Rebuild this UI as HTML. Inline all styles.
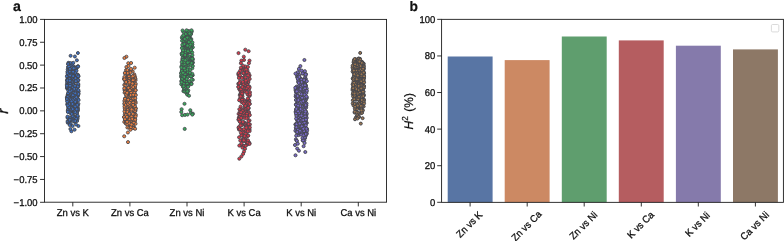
<!DOCTYPE html>
<html><head><meta charset="utf-8"><title>figure</title>
<style>html,body{margin:0;padding:0;background:#fff}svg{display:block;will-change:transform;text-rendering:geometricPrecision}</style></head>
<body>
<svg width="784" height="241" viewBox="0 0 784 241">
<rect width="784" height="241" fill="#fff"/>
<g fill="#3E70C2" stroke="#44464c" stroke-width="0.92">
<circle cx="72.8" cy="89.7" r="1.5"/><circle cx="72.5" cy="94.2" r="1.5"/><circle cx="68.9" cy="63.3" r="1.5"/><circle cx="70.2" cy="111.3" r="1.5"/><circle cx="77.7" cy="107.9" r="1.5"/><circle cx="78.4" cy="84.9" r="1.5"/><circle cx="74.1" cy="116.5" r="1.5"/><circle cx="70.2" cy="79.5" r="1.5"/><circle cx="71.0" cy="118.3" r="1.5"/><circle cx="71.5" cy="112.7" r="1.5"/><circle cx="76.7" cy="76.7" r="1.5"/><circle cx="68.1" cy="83.7" r="1.5"/><circle cx="70.4" cy="87.1" r="1.5"/><circle cx="67.8" cy="94.4" r="1.5"/><circle cx="72.0" cy="101.5" r="1.5"/><circle cx="67.2" cy="80.8" r="1.5"/><circle cx="73.4" cy="86.4" r="1.5"/><circle cx="71.9" cy="69.8" r="1.5"/><circle cx="72.6" cy="108.8" r="1.5"/><circle cx="70.1" cy="75.5" r="1.5"/><circle cx="72.6" cy="115.4" r="1.5"/><circle cx="68.8" cy="86.1" r="1.5"/><circle cx="68.4" cy="79.7" r="1.5"/><circle cx="77.8" cy="96.0" r="1.5"/><circle cx="67.9" cy="86.7" r="1.5"/><circle cx="73.1" cy="103.7" r="1.5"/><circle cx="76.9" cy="105.8" r="1.5"/><circle cx="71.9" cy="103.1" r="1.5"/><circle cx="70.6" cy="83.5" r="1.5"/><circle cx="67.6" cy="95.6" r="1.5"/><circle cx="75.4" cy="93.5" r="1.5"/><circle cx="67.7" cy="122.7" r="1.5"/><circle cx="78.7" cy="91.6" r="1.5"/><circle cx="68.6" cy="83.0" r="1.5"/><circle cx="77.0" cy="99.2" r="1.5"/><circle cx="75.6" cy="99.4" r="1.5"/><circle cx="76.6" cy="96.9" r="1.5"/><circle cx="77.0" cy="119.3" r="1.5"/><circle cx="69.9" cy="76.7" r="1.5"/><circle cx="71.5" cy="88.7" r="1.5"/><circle cx="74.5" cy="73.7" r="1.5"/><circle cx="74.3" cy="67.9" r="1.5"/><circle cx="77.8" cy="75.5" r="1.5"/><circle cx="78.4" cy="93.7" r="1.5"/><circle cx="68.4" cy="71.5" r="1.5"/><circle cx="70.5" cy="79.1" r="1.5"/><circle cx="67.5" cy="78.1" r="1.5"/><circle cx="72.4" cy="75.1" r="1.5"/><circle cx="75.9" cy="117.1" r="1.5"/><circle cx="75.0" cy="105.4" r="1.5"/><circle cx="77.1" cy="120.9" r="1.5"/><circle cx="68.6" cy="79.9" r="1.5"/><circle cx="76.6" cy="86.1" r="1.5"/><circle cx="68.1" cy="80.3" r="1.5"/><circle cx="78.5" cy="76.2" r="1.5"/><circle cx="71.2" cy="111.1" r="1.5"/><circle cx="75.0" cy="95.3" r="1.5"/><circle cx="69.5" cy="117.4" r="1.5"/><circle cx="67.9" cy="74.6" r="1.5"/><circle cx="68.2" cy="76.7" r="1.5"/><circle cx="70.3" cy="72.7" r="1.5"/><circle cx="67.5" cy="117.7" r="1.5"/><circle cx="70.4" cy="112.9" r="1.5"/><circle cx="67.7" cy="69.3" r="1.5"/><circle cx="76.0" cy="69.5" r="1.5"/><circle cx="67.9" cy="101.0" r="1.5"/><circle cx="68.0" cy="73.0" r="1.5"/><circle cx="71.1" cy="87.0" r="1.5"/><circle cx="75.3" cy="67.4" r="1.5"/><circle cx="69.3" cy="68.9" r="1.5"/><circle cx="78.2" cy="86.7" r="1.5"/><circle cx="76.6" cy="104.9" r="1.5"/><circle cx="67.1" cy="82.6" r="1.5"/><circle cx="71.1" cy="101.9" r="1.5"/><circle cx="76.5" cy="105.5" r="1.5"/><circle cx="71.4" cy="65.4" r="1.5"/><circle cx="77.7" cy="116.6" r="1.5"/><circle cx="71.0" cy="90.2" r="1.5"/><circle cx="74.1" cy="88.7" r="1.5"/><circle cx="70.7" cy="89.1" r="1.5"/><circle cx="75.8" cy="94.0" r="1.5"/><circle cx="73.7" cy="106.2" r="1.5"/><circle cx="70.6" cy="100.4" r="1.5"/><circle cx="68.4" cy="62.8" r="1.5"/><circle cx="70.3" cy="120.3" r="1.5"/><circle cx="77.6" cy="99.2" r="1.5"/><circle cx="75.7" cy="81.7" r="1.5"/><circle cx="71.6" cy="88.1" r="1.5"/><circle cx="69.7" cy="109.9" r="1.5"/><circle cx="75.2" cy="101.7" r="1.5"/><circle cx="73.4" cy="101.9" r="1.5"/><circle cx="77.6" cy="118.7" r="1.5"/><circle cx="76.0" cy="92.6" r="1.5"/><circle cx="74.7" cy="76.0" r="1.5"/><circle cx="69.8" cy="80.3" r="1.5"/><circle cx="71.5" cy="85.0" r="1.5"/><circle cx="75.5" cy="77.0" r="1.5"/><circle cx="70.3" cy="103.7" r="1.5"/><circle cx="72.5" cy="88.6" r="1.5"/><circle cx="66.9" cy="88.2" r="1.5"/><circle cx="68.6" cy="99.9" r="1.5"/><circle cx="78.0" cy="90.2" r="1.5"/><circle cx="77.2" cy="98.9" r="1.5"/><circle cx="70.8" cy="112.3" r="1.5"/><circle cx="68.8" cy="86.6" r="1.5"/><circle cx="70.6" cy="63.0" r="1.5"/><circle cx="75.6" cy="105.2" r="1.5"/><circle cx="76.2" cy="102.4" r="1.5"/><circle cx="70.6" cy="81.7" r="1.5"/><circle cx="70.9" cy="72.8" r="1.5"/><circle cx="74.9" cy="72.9" r="1.5"/><circle cx="68.7" cy="111.9" r="1.5"/><circle cx="70.8" cy="78.8" r="1.5"/><circle cx="68.8" cy="122.3" r="1.5"/><circle cx="72.2" cy="80.4" r="1.5"/><circle cx="77.8" cy="109.7" r="1.5"/><circle cx="70.9" cy="80.3" r="1.5"/><circle cx="70.4" cy="96.9" r="1.5"/><circle cx="72.8" cy="116.2" r="1.5"/><circle cx="67.8" cy="80.3" r="1.5"/><circle cx="71.5" cy="82.4" r="1.5"/><circle cx="72.1" cy="77.4" r="1.5"/><circle cx="71.2" cy="111.0" r="1.5"/><circle cx="77.4" cy="78.0" r="1.5"/><circle cx="71.2" cy="75.3" r="1.5"/><circle cx="77.5" cy="98.3" r="1.5"/><circle cx="67.2" cy="104.3" r="1.5"/><circle cx="66.9" cy="97.3" r="1.5"/><circle cx="76.9" cy="67.6" r="1.5"/><circle cx="74.2" cy="117.5" r="1.5"/><circle cx="73.6" cy="71.4" r="1.5"/><circle cx="67.7" cy="101.2" r="1.5"/><circle cx="77.0" cy="113.1" r="1.5"/><circle cx="69.4" cy="76.7" r="1.5"/><circle cx="69.6" cy="102.4" r="1.5"/><circle cx="74.9" cy="69.0" r="1.5"/><circle cx="77.4" cy="93.0" r="1.5"/><circle cx="70.3" cy="124.2" r="1.5"/><circle cx="75.6" cy="90.3" r="1.5"/><circle cx="73.5" cy="98.4" r="1.5"/><circle cx="75.8" cy="87.7" r="1.5"/><circle cx="78.0" cy="66.2" r="1.5"/><circle cx="78.1" cy="95.2" r="1.5"/><circle cx="76.6" cy="101.2" r="1.5"/><circle cx="68.4" cy="102.9" r="1.5"/><circle cx="73.0" cy="82.9" r="1.5"/><circle cx="70.5" cy="106.3" r="1.5"/><circle cx="73.0" cy="92.6" r="1.5"/><circle cx="74.4" cy="99.1" r="1.5"/><circle cx="74.7" cy="73.3" r="1.5"/><circle cx="71.3" cy="104.5" r="1.5"/><circle cx="67.0" cy="80.2" r="1.5"/><circle cx="77.1" cy="95.4" r="1.5"/><circle cx="68.6" cy="89.3" r="1.5"/><circle cx="76.1" cy="109.5" r="1.5"/><circle cx="67.6" cy="121.2" r="1.5"/><circle cx="74.6" cy="109.0" r="1.5"/><circle cx="67.5" cy="75.5" r="1.5"/><circle cx="74.3" cy="103.0" r="1.5"/><circle cx="76.8" cy="87.8" r="1.5"/><circle cx="69.0" cy="68.4" r="1.5"/><circle cx="68.5" cy="109.8" r="1.5"/><circle cx="71.9" cy="102.9" r="1.5"/><circle cx="69.4" cy="91.4" r="1.5"/><circle cx="73.1" cy="79.3" r="1.5"/><circle cx="66.9" cy="84.4" r="1.5"/><circle cx="71.1" cy="72.0" r="1.5"/><circle cx="76.6" cy="81.0" r="1.5"/><circle cx="71.4" cy="119.9" r="1.5"/><circle cx="68.9" cy="87.6" r="1.5"/><circle cx="78.2" cy="83.8" r="1.5"/><circle cx="75.4" cy="71.7" r="1.5"/><circle cx="68.3" cy="86.5" r="1.5"/><circle cx="76.1" cy="112.5" r="1.5"/><circle cx="67.5" cy="116.6" r="1.5"/><circle cx="74.4" cy="120.2" r="1.5"/><circle cx="68.3" cy="108.3" r="1.5"/><circle cx="69.0" cy="106.0" r="1.5"/><circle cx="70.0" cy="104.7" r="1.5"/><circle cx="76.6" cy="88.8" r="1.5"/><circle cx="75.5" cy="86.8" r="1.5"/><circle cx="67.4" cy="71.8" r="1.5"/><circle cx="76.6" cy="78.4" r="1.5"/><circle cx="71.7" cy="83.2" r="1.5"/><circle cx="67.8" cy="79.4" r="1.5"/><circle cx="72.7" cy="100.2" r="1.5"/><circle cx="77.5" cy="116.8" r="1.5"/><circle cx="75.7" cy="68.9" r="1.5"/><circle cx="68.4" cy="76.3" r="1.5"/><circle cx="69.7" cy="109.7" r="1.5"/><circle cx="77.3" cy="99.4" r="1.5"/><circle cx="74.4" cy="111.7" r="1.5"/><circle cx="68.1" cy="100.3" r="1.5"/><circle cx="69.0" cy="98.6" r="1.5"/><circle cx="72.8" cy="77.2" r="1.5"/><circle cx="67.9" cy="94.1" r="1.5"/><circle cx="69.0" cy="79.1" r="1.5"/><circle cx="76.2" cy="105.0" r="1.5"/><circle cx="77.8" cy="110.7" r="1.5"/><circle cx="70.9" cy="100.1" r="1.5"/><circle cx="77.6" cy="107.9" r="1.5"/><circle cx="70.9" cy="107.4" r="1.5"/><circle cx="72.7" cy="84.4" r="1.5"/><circle cx="78.1" cy="75.6" r="1.5"/><circle cx="76.8" cy="75.8" r="1.5"/><circle cx="77.4" cy="95.6" r="1.5"/><circle cx="74.3" cy="94.8" r="1.5"/><circle cx="70.7" cy="70.1" r="1.5"/><circle cx="73.6" cy="106.0" r="1.5"/><circle cx="72.5" cy="83.0" r="1.5"/><circle cx="68.7" cy="103.2" r="1.5"/><circle cx="77.3" cy="110.9" r="1.5"/><circle cx="68.5" cy="89.3" r="1.5"/><circle cx="69.9" cy="83.2" r="1.5"/><circle cx="72.3" cy="82.9" r="1.5"/><circle cx="68.9" cy="76.7" r="1.5"/><circle cx="67.6" cy="97.9" r="1.5"/><circle cx="75.8" cy="93.6" r="1.5"/><circle cx="73.1" cy="70.4" r="1.5"/><circle cx="73.5" cy="97.6" r="1.5"/><circle cx="71.7" cy="109.9" r="1.5"/><circle cx="67.2" cy="87.2" r="1.5"/><circle cx="73.8" cy="102.2" r="1.5"/><circle cx="76.6" cy="80.1" r="1.5"/><circle cx="69.4" cy="102.7" r="1.5"/><circle cx="69.6" cy="72.1" r="1.5"/><circle cx="72.2" cy="81.6" r="1.5"/><circle cx="75.6" cy="79.8" r="1.5"/><circle cx="73.3" cy="66.3" r="1.5"/><circle cx="73.8" cy="102.7" r="1.5"/><circle cx="72.2" cy="89.7" r="1.5"/><circle cx="73.5" cy="84.8" r="1.5"/><circle cx="77.2" cy="94.5" r="1.5"/><circle cx="74.2" cy="70.7" r="1.5"/><circle cx="74.2" cy="110.6" r="1.5"/><circle cx="78.4" cy="103.8" r="1.5"/><circle cx="73.1" cy="105.2" r="1.5"/><circle cx="69.2" cy="82.1" r="1.5"/><circle cx="70.2" cy="85.5" r="1.5"/><circle cx="74.6" cy="81.5" r="1.5"/><circle cx="74.7" cy="121.9" r="1.5"/><circle cx="70.8" cy="99.0" r="1.5"/><circle cx="73.2" cy="98.3" r="1.5"/><circle cx="69.8" cy="104.8" r="1.5"/><circle cx="71.2" cy="86.0" r="1.5"/><circle cx="72.9" cy="114.7" r="1.5"/><circle cx="74.8" cy="95.2" r="1.5"/><circle cx="68.5" cy="83.6" r="1.5"/><circle cx="72.1" cy="114.3" r="1.5"/><circle cx="71.0" cy="71.6" r="1.5"/><circle cx="69.5" cy="104.3" r="1.5"/><circle cx="73.6" cy="68.0" r="1.5"/><circle cx="66.9" cy="76.3" r="1.5"/><circle cx="70.1" cy="72.7" r="1.5"/><circle cx="76.7" cy="67.4" r="1.5"/><circle cx="72.4" cy="87.9" r="1.5"/><circle cx="67.8" cy="103.8" r="1.5"/><circle cx="69.9" cy="71.5" r="1.5"/><circle cx="70.8" cy="68.9" r="1.5"/><circle cx="78.5" cy="94.0" r="1.5"/><circle cx="73.4" cy="103.4" r="1.5"/><circle cx="68.7" cy="106.8" r="1.5"/><circle cx="68.3" cy="64.3" r="1.5"/><circle cx="72.6" cy="109.3" r="1.5"/><circle cx="77.5" cy="81.1" r="1.5"/><circle cx="70.0" cy="95.2" r="1.5"/><circle cx="76.8" cy="113.1" r="1.5"/><circle cx="69.1" cy="120.0" r="1.5"/><circle cx="71.5" cy="94.4" r="1.5"/><circle cx="74.6" cy="99.0" r="1.5"/><circle cx="74.3" cy="102.5" r="1.5"/><circle cx="78.1" cy="66.6" r="1.5"/><circle cx="68.1" cy="93.2" r="1.5"/><circle cx="70.1" cy="109.7" r="1.5"/><circle cx="73.4" cy="119.3" r="1.5"/><circle cx="72.3" cy="67.5" r="1.5"/><circle cx="77.9" cy="74.7" r="1.5"/><circle cx="76.4" cy="99.9" r="1.5"/><circle cx="72.9" cy="77.6" r="1.5"/><circle cx="69.4" cy="120.6" r="1.5"/><circle cx="72.4" cy="63.8" r="1.5"/><circle cx="73.9" cy="80.2" r="1.5"/><circle cx="74.8" cy="68.1" r="1.5"/><circle cx="72.7" cy="71.1" r="1.5"/><circle cx="69.7" cy="88.0" r="1.5"/><circle cx="69.9" cy="81.3" r="1.5"/><circle cx="72.6" cy="71.9" r="1.5"/><circle cx="67.1" cy="87.1" r="1.5"/><circle cx="78.4" cy="80.1" r="1.5"/><circle cx="69.6" cy="112.3" r="1.5"/><circle cx="67.9" cy="100.4" r="1.5"/><circle cx="68.3" cy="107.1" r="1.5"/><circle cx="74.4" cy="119.9" r="1.5"/><circle cx="69.2" cy="78.2" r="1.5"/><circle cx="73.5" cy="104.0" r="1.5"/><circle cx="73.3" cy="71.9" r="1.5"/><circle cx="67.8" cy="110.2" r="1.5"/><circle cx="72.8" cy="89.6" r="1.5"/><circle cx="69.5" cy="78.9" r="1.5"/><circle cx="71.4" cy="109.4" r="1.5"/><circle cx="67.4" cy="100.2" r="1.5"/><circle cx="77.6" cy="115.7" r="1.5"/><circle cx="68.2" cy="90.6" r="1.5"/><circle cx="75.5" cy="90.5" r="1.5"/><circle cx="69.1" cy="87.6" r="1.5"/><circle cx="77.7" cy="86.5" r="1.5"/><circle cx="75.4" cy="72.7" r="1.5"/><circle cx="78.0" cy="80.1" r="1.5"/><circle cx="75.3" cy="112.2" r="1.5"/><circle cx="68.7" cy="96.1" r="1.5"/><circle cx="67.6" cy="73.4" r="1.5"/><circle cx="76.8" cy="75.2" r="1.5"/><circle cx="69.6" cy="106.5" r="1.5"/><circle cx="72.6" cy="116.1" r="1.5"/><circle cx="69.3" cy="88.7" r="1.5"/><circle cx="74.1" cy="76.2" r="1.5"/><circle cx="67.8" cy="111.9" r="1.5"/><circle cx="69.6" cy="89.1" r="1.5"/><circle cx="72.9" cy="100.2" r="1.5"/><circle cx="73.0" cy="87.3" r="1.5"/><circle cx="68.0" cy="85.0" r="1.5"/><circle cx="78.2" cy="76.3" r="1.5"/><circle cx="71.6" cy="104.1" r="1.5"/><circle cx="71.5" cy="101.5" r="1.5"/><circle cx="76.7" cy="106.3" r="1.5"/><circle cx="76.0" cy="88.8" r="1.5"/><circle cx="74.5" cy="105.8" r="1.5"/><circle cx="66.9" cy="85.7" r="1.5"/><circle cx="73.8" cy="89.5" r="1.5"/><circle cx="68.9" cy="98.0" r="1.5"/><circle cx="67.4" cy="98.3" r="1.5"/><circle cx="71.3" cy="84.8" r="1.5"/><circle cx="68.1" cy="100.2" r="1.5"/><circle cx="72.6" cy="94.9" r="1.5"/><circle cx="68.0" cy="67.0" r="1.5"/><circle cx="69.7" cy="119.8" r="1.5"/><circle cx="77.7" cy="109.1" r="1.5"/><circle cx="78.4" cy="90.1" r="1.5"/><circle cx="73.1" cy="71.7" r="1.5"/><circle cx="70.0" cy="83.8" r="1.5"/><circle cx="67.7" cy="96.9" r="1.5"/><circle cx="77.6" cy="98.4" r="1.5"/><circle cx="69.4" cy="104.1" r="1.5"/><circle cx="68.9" cy="75.1" r="1.5"/><circle cx="69.2" cy="107.4" r="1.5"/><circle cx="74.5" cy="121.1" r="1.5"/><circle cx="73.5" cy="93.0" r="1.5"/><circle cx="67.7" cy="105.5" r="1.5"/><circle cx="70.1" cy="75.5" r="1.5"/><circle cx="70.0" cy="85.7" r="1.5"/><circle cx="73.4" cy="121.1" r="1.5"/><circle cx="73.1" cy="76.1" r="1.5"/><circle cx="78.6" cy="100.1" r="1.5"/><circle cx="68.1" cy="64.0" r="1.5"/><circle cx="78.0" cy="105.6" r="1.5"/><circle cx="74.9" cy="81.2" r="1.5"/><circle cx="67.2" cy="101.6" r="1.5"/><circle cx="67.6" cy="80.4" r="1.5"/><circle cx="75.3" cy="101.8" r="1.5"/><circle cx="66.9" cy="99.0" r="1.5"/><circle cx="75.2" cy="93.3" r="1.5"/><circle cx="76.3" cy="97.2" r="1.5"/><circle cx="75.5" cy="78.2" r="1.5"/><circle cx="71.3" cy="90.8" r="1.5"/><circle cx="69.7" cy="91.5" r="1.5"/><circle cx="68.9" cy="66.6" r="1.5"/><circle cx="76.5" cy="70.7" r="1.5"/><circle cx="76.2" cy="118.8" r="1.5"/><circle cx="72.0" cy="108.1" r="1.5"/><circle cx="75.3" cy="106.5" r="1.5"/><circle cx="73.3" cy="62.8" r="1.5"/><circle cx="77.3" cy="104.9" r="1.5"/><circle cx="72.5" cy="104.0" r="1.5"/><circle cx="74.3" cy="88.9" r="1.5"/><circle cx="72.7" cy="109.1" r="1.5"/><circle cx="75.2" cy="121.0" r="1.5"/><circle cx="69.8" cy="80.7" r="1.5"/><circle cx="70.0" cy="68.9" r="1.5"/><circle cx="76.6" cy="109.2" r="1.5"/><circle cx="73.6" cy="95.5" r="1.5"/><circle cx="72.9" cy="95.2" r="1.5"/><circle cx="75.9" cy="81.1" r="1.5"/><circle cx="75.0" cy="85.9" r="1.5"/><circle cx="71.7" cy="113.9" r="1.5"/><circle cx="73.7" cy="68.3" r="1.5"/><circle cx="70.6" cy="123.8" r="1.5"/><circle cx="77.9" cy="53.0" r="1.5"/><circle cx="70.6" cy="55.8" r="1.5"/><circle cx="74.9" cy="56.5" r="1.5"/><circle cx="76.9" cy="60.3" r="1.5"/><circle cx="71.4" cy="131.3" r="1.5"/><circle cx="78.4" cy="126.0" r="1.5"/><circle cx="74.6" cy="129.7" r="1.5"/><circle cx="70.4" cy="129.0" r="1.5"/><circle cx="72.6" cy="126.0" r="1.5"/><circle cx="69.7" cy="125.1" r="1.5"/><circle cx="76.0" cy="124.5" r="1.5"/>
</g>
<g fill="#EC8040" stroke="#44464c" stroke-width="0.85">
<circle cx="125.2" cy="98.5" r="1.55"/><circle cx="130.3" cy="98.7" r="1.55"/><circle cx="126.8" cy="118.5" r="1.55"/><circle cx="131.7" cy="127.8" r="1.55"/><circle cx="129.4" cy="85.8" r="1.55"/><circle cx="125.1" cy="120.6" r="1.55"/><circle cx="126.4" cy="77.6" r="1.55"/><circle cx="131.8" cy="85.4" r="1.55"/><circle cx="132.4" cy="115.7" r="1.55"/><circle cx="132.7" cy="125.9" r="1.55"/><circle cx="128.9" cy="100.9" r="1.55"/><circle cx="132.9" cy="82.9" r="1.55"/><circle cx="133.0" cy="107.2" r="1.55"/><circle cx="134.9" cy="93.6" r="1.55"/><circle cx="135.4" cy="78.7" r="1.55"/><circle cx="131.5" cy="108.6" r="1.55"/><circle cx="128.1" cy="116.7" r="1.55"/><circle cx="131.4" cy="121.3" r="1.55"/><circle cx="125.5" cy="104.5" r="1.55"/><circle cx="132.5" cy="98.9" r="1.55"/><circle cx="131.4" cy="84.3" r="1.55"/><circle cx="132.1" cy="122.9" r="1.55"/><circle cx="124.9" cy="107.5" r="1.55"/><circle cx="125.1" cy="99.2" r="1.55"/><circle cx="132.3" cy="77.5" r="1.55"/><circle cx="127.7" cy="73.1" r="1.55"/><circle cx="131.8" cy="117.7" r="1.55"/><circle cx="129.2" cy="119.8" r="1.55"/><circle cx="132.8" cy="109.4" r="1.55"/><circle cx="127.0" cy="94.3" r="1.55"/><circle cx="131.9" cy="123.4" r="1.55"/><circle cx="125.9" cy="119.9" r="1.55"/><circle cx="132.9" cy="106.3" r="1.55"/><circle cx="125.9" cy="120.6" r="1.55"/><circle cx="132.9" cy="115.7" r="1.55"/><circle cx="134.1" cy="120.2" r="1.55"/><circle cx="132.1" cy="105.1" r="1.55"/><circle cx="129.0" cy="107.0" r="1.55"/><circle cx="125.9" cy="119.8" r="1.55"/><circle cx="124.6" cy="117.1" r="1.55"/><circle cx="127.1" cy="78.5" r="1.55"/><circle cx="132.1" cy="120.0" r="1.55"/><circle cx="125.7" cy="112.4" r="1.55"/><circle cx="130.4" cy="94.0" r="1.55"/><circle cx="125.3" cy="90.6" r="1.55"/><circle cx="127.8" cy="98.2" r="1.55"/><circle cx="124.6" cy="89.9" r="1.55"/><circle cx="124.4" cy="103.9" r="1.55"/><circle cx="133.0" cy="85.6" r="1.55"/><circle cx="133.3" cy="107.0" r="1.55"/><circle cx="125.8" cy="90.6" r="1.55"/><circle cx="135.3" cy="101.6" r="1.55"/><circle cx="129.2" cy="86.7" r="1.55"/><circle cx="125.3" cy="105.9" r="1.55"/><circle cx="135.7" cy="102.9" r="1.55"/><circle cx="125.4" cy="98.7" r="1.55"/><circle cx="131.8" cy="92.4" r="1.55"/><circle cx="126.2" cy="100.7" r="1.55"/><circle cx="134.1" cy="86.5" r="1.55"/><circle cx="134.8" cy="89.6" r="1.55"/><circle cx="133.7" cy="98.8" r="1.55"/><circle cx="134.3" cy="82.7" r="1.55"/><circle cx="135.1" cy="87.1" r="1.55"/><circle cx="135.8" cy="108.4" r="1.55"/><circle cx="129.6" cy="89.8" r="1.55"/><circle cx="132.3" cy="87.8" r="1.55"/><circle cx="124.3" cy="121.9" r="1.55"/><circle cx="125.7" cy="107.9" r="1.55"/><circle cx="134.5" cy="111.8" r="1.55"/><circle cx="127.9" cy="76.5" r="1.55"/><circle cx="130.0" cy="88.8" r="1.55"/><circle cx="126.8" cy="121.9" r="1.55"/><circle cx="126.3" cy="106.8" r="1.55"/><circle cx="125.3" cy="88.1" r="1.55"/><circle cx="129.3" cy="111.7" r="1.55"/><circle cx="127.8" cy="75.8" r="1.55"/><circle cx="126.6" cy="110.4" r="1.55"/><circle cx="126.5" cy="95.3" r="1.55"/><circle cx="133.4" cy="93.2" r="1.55"/><circle cx="129.1" cy="88.5" r="1.55"/><circle cx="124.8" cy="90.1" r="1.55"/><circle cx="129.7" cy="114.7" r="1.55"/><circle cx="125.7" cy="108.0" r="1.55"/><circle cx="133.5" cy="110.0" r="1.55"/><circle cx="128.9" cy="115.7" r="1.55"/><circle cx="131.9" cy="109.1" r="1.55"/><circle cx="130.9" cy="126.7" r="1.55"/><circle cx="134.9" cy="121.3" r="1.55"/><circle cx="130.9" cy="103.1" r="1.55"/><circle cx="133.1" cy="96.2" r="1.55"/><circle cx="130.0" cy="125.2" r="1.55"/><circle cx="130.3" cy="76.3" r="1.55"/><circle cx="124.6" cy="92.7" r="1.55"/><circle cx="135.0" cy="76.6" r="1.55"/><circle cx="132.3" cy="109.0" r="1.55"/><circle cx="133.4" cy="93.8" r="1.55"/><circle cx="124.3" cy="84.9" r="1.55"/><circle cx="132.2" cy="95.4" r="1.55"/><circle cx="129.7" cy="105.9" r="1.55"/><circle cx="125.5" cy="118.8" r="1.55"/><circle cx="127.2" cy="115.0" r="1.55"/><circle cx="127.7" cy="70.8" r="1.55"/><circle cx="129.3" cy="102.6" r="1.55"/><circle cx="126.0" cy="77.6" r="1.55"/><circle cx="126.4" cy="99.6" r="1.55"/><circle cx="125.4" cy="85.2" r="1.55"/><circle cx="135.5" cy="80.2" r="1.55"/><circle cx="132.4" cy="126.5" r="1.55"/><circle cx="130.2" cy="115.6" r="1.55"/><circle cx="127.6" cy="90.3" r="1.55"/><circle cx="134.3" cy="118.9" r="1.55"/><circle cx="129.0" cy="72.2" r="1.55"/><circle cx="128.4" cy="90.6" r="1.55"/><circle cx="134.3" cy="74.4" r="1.55"/><circle cx="131.8" cy="118.2" r="1.55"/><circle cx="128.5" cy="80.1" r="1.55"/><circle cx="135.5" cy="90.2" r="1.55"/><circle cx="130.0" cy="79.1" r="1.55"/><circle cx="132.6" cy="71.3" r="1.55"/><circle cx="127.2" cy="81.2" r="1.55"/><circle cx="131.8" cy="85.5" r="1.55"/><circle cx="126.1" cy="93.3" r="1.55"/><circle cx="127.4" cy="127.5" r="1.55"/><circle cx="135.5" cy="110.7" r="1.55"/><circle cx="125.0" cy="100.4" r="1.55"/><circle cx="124.8" cy="114.3" r="1.55"/><circle cx="129.1" cy="102.2" r="1.55"/><circle cx="124.7" cy="79.6" r="1.55"/><circle cx="127.5" cy="99.7" r="1.55"/><circle cx="126.0" cy="121.1" r="1.55"/><circle cx="129.5" cy="96.4" r="1.55"/><circle cx="130.7" cy="103.8" r="1.55"/><circle cx="133.9" cy="108.2" r="1.55"/><circle cx="135.0" cy="78.3" r="1.55"/><circle cx="135.5" cy="123.7" r="1.55"/><circle cx="135.1" cy="101.5" r="1.55"/><circle cx="131.6" cy="107.1" r="1.55"/><circle cx="126.5" cy="79.8" r="1.55"/><circle cx="125.4" cy="81.7" r="1.55"/><circle cx="128.0" cy="111.6" r="1.55"/><circle cx="127.8" cy="109.4" r="1.55"/><circle cx="125.1" cy="109.4" r="1.55"/><circle cx="131.9" cy="107.3" r="1.55"/><circle cx="135.0" cy="111.0" r="1.55"/><circle cx="128.4" cy="75.0" r="1.55"/><circle cx="125.5" cy="80.5" r="1.55"/><circle cx="130.5" cy="95.5" r="1.55"/><circle cx="131.0" cy="121.9" r="1.55"/><circle cx="130.7" cy="91.6" r="1.55"/><circle cx="131.2" cy="103.8" r="1.55"/><circle cx="124.4" cy="100.9" r="1.55"/><circle cx="125.0" cy="73.4" r="1.55"/><circle cx="124.5" cy="111.4" r="1.55"/><circle cx="131.4" cy="123.7" r="1.55"/><circle cx="124.2" cy="117.2" r="1.55"/><circle cx="130.2" cy="117.7" r="1.55"/><circle cx="131.2" cy="106.6" r="1.55"/><circle cx="126.0" cy="123.2" r="1.55"/><circle cx="132.0" cy="103.8" r="1.55"/><circle cx="129.7" cy="119.5" r="1.55"/><circle cx="129.9" cy="102.1" r="1.55"/><circle cx="124.8" cy="108.6" r="1.55"/><circle cx="127.9" cy="123.2" r="1.55"/><circle cx="132.4" cy="82.1" r="1.55"/><circle cx="131.7" cy="91.4" r="1.55"/><circle cx="135.8" cy="114.8" r="1.55"/><circle cx="131.1" cy="70.3" r="1.55"/><circle cx="124.0" cy="79.0" r="1.55"/><circle cx="127.6" cy="73.8" r="1.55"/><circle cx="131.0" cy="123.7" r="1.55"/><circle cx="135.6" cy="108.6" r="1.55"/><circle cx="132.9" cy="110.1" r="1.55"/><circle cx="125.3" cy="78.2" r="1.55"/><circle cx="127.3" cy="103.3" r="1.55"/><circle cx="130.1" cy="107.7" r="1.55"/><circle cx="124.4" cy="77.0" r="1.55"/><circle cx="127.1" cy="106.9" r="1.55"/><circle cx="133.7" cy="118.8" r="1.55"/><circle cx="126.7" cy="92.0" r="1.55"/><circle cx="129.6" cy="76.8" r="1.55"/><circle cx="128.9" cy="123.8" r="1.55"/><circle cx="125.2" cy="105.4" r="1.55"/><circle cx="133.7" cy="122.4" r="1.55"/><circle cx="129.0" cy="76.4" r="1.55"/><circle cx="130.3" cy="72.5" r="1.55"/><circle cx="125.9" cy="122.9" r="1.55"/><circle cx="126.1" cy="123.8" r="1.55"/><circle cx="134.8" cy="89.5" r="1.55"/><circle cx="125.2" cy="91.7" r="1.55"/><circle cx="129.1" cy="101.1" r="1.55"/><circle cx="130.9" cy="87.0" r="1.55"/><circle cx="127.7" cy="110.1" r="1.55"/><circle cx="127.4" cy="112.0" r="1.55"/><circle cx="129.4" cy="127.8" r="1.55"/><circle cx="132.5" cy="115.1" r="1.55"/><circle cx="135.0" cy="118.9" r="1.55"/><circle cx="129.8" cy="83.9" r="1.55"/><circle cx="133.9" cy="85.7" r="1.55"/><circle cx="135.6" cy="116.4" r="1.55"/><circle cx="126.0" cy="119.4" r="1.55"/><circle cx="134.3" cy="92.6" r="1.55"/><circle cx="131.6" cy="77.0" r="1.55"/><circle cx="125.8" cy="83.1" r="1.55"/><circle cx="131.3" cy="110.7" r="1.55"/><circle cx="133.0" cy="119.7" r="1.55"/><circle cx="130.5" cy="106.6" r="1.55"/><circle cx="124.5" cy="79.3" r="1.55"/><circle cx="134.4" cy="98.3" r="1.55"/><circle cx="126.9" cy="95.2" r="1.55"/><circle cx="126.5" cy="95.9" r="1.55"/><circle cx="133.0" cy="78.9" r="1.55"/><circle cx="129.3" cy="79.1" r="1.55"/><circle cx="127.3" cy="124.1" r="1.55"/><circle cx="130.8" cy="89.8" r="1.55"/><circle cx="134.3" cy="80.0" r="1.55"/><circle cx="134.8" cy="99.9" r="1.55"/><circle cx="131.1" cy="100.8" r="1.55"/><circle cx="135.8" cy="95.1" r="1.55"/><circle cx="132.1" cy="88.3" r="1.55"/><circle cx="125.9" cy="115.1" r="1.55"/><circle cx="129.3" cy="113.7" r="1.55"/><circle cx="134.0" cy="75.6" r="1.55"/><circle cx="128.2" cy="99.7" r="1.55"/><circle cx="134.0" cy="99.2" r="1.55"/><circle cx="125.6" cy="106.9" r="1.55"/><circle cx="131.1" cy="94.2" r="1.55"/><circle cx="133.8" cy="114.2" r="1.55"/><circle cx="131.8" cy="83.5" r="1.55"/><circle cx="133.0" cy="99.5" r="1.55"/><circle cx="128.7" cy="121.8" r="1.55"/><circle cx="126.1" cy="70.1" r="1.55"/><circle cx="133.8" cy="119.6" r="1.55"/><circle cx="127.5" cy="92.2" r="1.55"/><circle cx="133.6" cy="126.4" r="1.55"/><circle cx="133.2" cy="98.5" r="1.55"/><circle cx="133.1" cy="102.3" r="1.55"/><circle cx="134.1" cy="84.9" r="1.55"/><circle cx="126.3" cy="94.7" r="1.55"/><circle cx="130.1" cy="103.7" r="1.55"/><circle cx="124.5" cy="106.4" r="1.55"/><circle cx="131.1" cy="92.7" r="1.55"/><circle cx="131.6" cy="116.6" r="1.55"/><circle cx="132.7" cy="76.3" r="1.55"/><circle cx="134.2" cy="84.9" r="1.55"/><circle cx="135.6" cy="90.2" r="1.55"/><circle cx="124.6" cy="103.2" r="1.55"/><circle cx="135.7" cy="83.9" r="1.55"/><circle cx="128.0" cy="88.1" r="1.55"/><circle cx="125.0" cy="98.7" r="1.55"/><circle cx="135.3" cy="98.2" r="1.55"/><circle cx="129.0" cy="80.8" r="1.55"/><circle cx="125.1" cy="119.3" r="1.55"/><circle cx="130.3" cy="105.3" r="1.55"/><circle cx="132.7" cy="83.7" r="1.55"/><circle cx="128.4" cy="83.1" r="1.55"/><circle cx="132.3" cy="104.2" r="1.55"/><circle cx="132.9" cy="80.2" r="1.55"/><circle cx="128.5" cy="87.8" r="1.55"/><circle cx="132.3" cy="118.9" r="1.55"/><circle cx="131.0" cy="103.8" r="1.55"/><circle cx="127.1" cy="92.8" r="1.55"/><circle cx="125.9" cy="104.8" r="1.55"/><circle cx="124.3" cy="88.3" r="1.55"/><circle cx="124.1" cy="117.0" r="1.55"/><circle cx="129.4" cy="123.5" r="1.55"/><circle cx="127.7" cy="73.1" r="1.55"/><circle cx="126.1" cy="82.0" r="1.55"/><circle cx="134.0" cy="127.7" r="1.55"/><circle cx="131.6" cy="109.4" r="1.55"/><circle cx="134.6" cy="106.1" r="1.55"/><circle cx="131.8" cy="86.1" r="1.55"/><circle cx="125.0" cy="119.1" r="1.55"/><circle cx="127.1" cy="121.8" r="1.55"/><circle cx="129.9" cy="90.2" r="1.55"/><circle cx="135.2" cy="85.6" r="1.55"/><circle cx="129.6" cy="82.4" r="1.55"/><circle cx="124.9" cy="72.9" r="1.55"/><circle cx="127.5" cy="102.8" r="1.55"/><circle cx="128.9" cy="105.4" r="1.55"/><circle cx="134.4" cy="106.8" r="1.55"/><circle cx="132.4" cy="83.5" r="1.55"/><circle cx="134.8" cy="106.2" r="1.55"/><circle cx="126.9" cy="116.9" r="1.55"/><circle cx="133.2" cy="102.6" r="1.55"/><circle cx="128.1" cy="104.0" r="1.55"/><circle cx="130.8" cy="95.1" r="1.55"/><circle cx="129.6" cy="102.7" r="1.55"/><circle cx="133.1" cy="104.9" r="1.55"/><circle cx="133.2" cy="87.1" r="1.55"/><circle cx="133.3" cy="94.8" r="1.55"/><circle cx="135.2" cy="119.7" r="1.55"/><circle cx="132.8" cy="113.9" r="1.55"/><circle cx="126.4" cy="56.7" r="1.55"/><circle cx="124.4" cy="58.0" r="1.55"/><circle cx="128.3" cy="63.2" r="1.55"/><circle cx="131.1" cy="63.0" r="1.55"/><circle cx="134.7" cy="67.7" r="1.55"/><circle cx="126.4" cy="67.0" r="1.55"/><circle cx="128.5" cy="66.0" r="1.55"/><circle cx="127.4" cy="70.0" r="1.55"/><circle cx="131.0" cy="69.0" r="1.55"/><circle cx="128.0" cy="142.1" r="1.55"/><circle cx="124.2" cy="136.3" r="1.55"/><circle cx="127.9" cy="132.5" r="1.55"/><circle cx="130.5" cy="129.7" r="1.55"/><circle cx="133.2" cy="128.0" r="1.55"/><circle cx="135.1" cy="128.8" r="1.55"/><circle cx="130.9" cy="127.1" r="1.55"/><circle cx="131.5" cy="124.5" r="1.55"/>
</g>
<g fill="#3AA85A" stroke="#44464c" stroke-width="0.8">
<circle cx="186.4" cy="90.2" r="1.57"/><circle cx="183.4" cy="91.1" r="1.57"/><circle cx="187.2" cy="68.7" r="1.57"/><circle cx="187.0" cy="81.6" r="1.57"/><circle cx="189.8" cy="37.0" r="1.57"/><circle cx="184.0" cy="64.5" r="1.57"/><circle cx="184.1" cy="89.8" r="1.57"/><circle cx="186.3" cy="41.1" r="1.57"/><circle cx="188.1" cy="31.3" r="1.57"/><circle cx="188.6" cy="75.5" r="1.57"/><circle cx="186.8" cy="93.2" r="1.57"/><circle cx="188.2" cy="50.4" r="1.57"/><circle cx="182.7" cy="84.3" r="1.57"/><circle cx="185.1" cy="39.6" r="1.57"/><circle cx="192.3" cy="68.2" r="1.57"/><circle cx="186.1" cy="77.2" r="1.57"/><circle cx="181.1" cy="76.8" r="1.57"/><circle cx="186.9" cy="46.7" r="1.57"/><circle cx="192.8" cy="79.8" r="1.57"/><circle cx="192.9" cy="62.6" r="1.57"/><circle cx="184.1" cy="88.5" r="1.57"/><circle cx="184.5" cy="91.5" r="1.57"/><circle cx="189.5" cy="56.3" r="1.57"/><circle cx="185.6" cy="55.9" r="1.57"/><circle cx="187.7" cy="50.9" r="1.57"/><circle cx="189.4" cy="36.1" r="1.57"/><circle cx="186.8" cy="55.2" r="1.57"/><circle cx="184.0" cy="35.8" r="1.57"/><circle cx="182.7" cy="63.5" r="1.57"/><circle cx="182.5" cy="59.2" r="1.57"/><circle cx="186.2" cy="92.6" r="1.57"/><circle cx="184.8" cy="52.4" r="1.57"/><circle cx="192.8" cy="47.3" r="1.57"/><circle cx="190.2" cy="52.2" r="1.57"/><circle cx="190.2" cy="60.6" r="1.57"/><circle cx="185.1" cy="50.4" r="1.57"/><circle cx="182.6" cy="55.4" r="1.57"/><circle cx="185.1" cy="77.3" r="1.57"/><circle cx="186.2" cy="83.3" r="1.57"/><circle cx="185.7" cy="70.5" r="1.57"/><circle cx="187.2" cy="55.5" r="1.57"/><circle cx="183.8" cy="55.9" r="1.57"/><circle cx="188.7" cy="60.2" r="1.57"/><circle cx="188.9" cy="37.0" r="1.57"/><circle cx="184.6" cy="52.5" r="1.57"/><circle cx="187.3" cy="36.4" r="1.57"/><circle cx="182.2" cy="69.4" r="1.57"/><circle cx="182.9" cy="37.8" r="1.57"/><circle cx="186.2" cy="81.2" r="1.57"/><circle cx="181.3" cy="75.4" r="1.57"/><circle cx="183.5" cy="54.5" r="1.57"/><circle cx="183.4" cy="58.4" r="1.57"/><circle cx="181.9" cy="71.3" r="1.57"/><circle cx="184.2" cy="36.5" r="1.57"/><circle cx="182.1" cy="81.6" r="1.57"/><circle cx="182.7" cy="40.9" r="1.57"/><circle cx="186.6" cy="90.0" r="1.57"/><circle cx="192.5" cy="62.5" r="1.57"/><circle cx="188.0" cy="58.4" r="1.57"/><circle cx="191.0" cy="75.3" r="1.57"/><circle cx="191.4" cy="57.6" r="1.57"/><circle cx="186.1" cy="65.8" r="1.57"/><circle cx="182.7" cy="47.1" r="1.57"/><circle cx="188.4" cy="44.7" r="1.57"/><circle cx="183.1" cy="50.7" r="1.57"/><circle cx="191.4" cy="64.4" r="1.57"/><circle cx="183.9" cy="61.6" r="1.57"/><circle cx="182.9" cy="86.7" r="1.57"/><circle cx="187.1" cy="32.1" r="1.57"/><circle cx="181.6" cy="53.6" r="1.57"/><circle cx="187.0" cy="46.4" r="1.57"/><circle cx="187.2" cy="71.6" r="1.57"/><circle cx="181.8" cy="75.6" r="1.57"/><circle cx="191.3" cy="39.1" r="1.57"/><circle cx="192.0" cy="65.2" r="1.57"/><circle cx="190.8" cy="59.2" r="1.57"/><circle cx="185.9" cy="70.7" r="1.57"/><circle cx="181.9" cy="78.9" r="1.57"/><circle cx="189.5" cy="52.0" r="1.57"/><circle cx="191.8" cy="63.0" r="1.57"/><circle cx="184.5" cy="47.8" r="1.57"/><circle cx="188.1" cy="83.6" r="1.57"/><circle cx="186.8" cy="86.2" r="1.57"/><circle cx="184.0" cy="43.2" r="1.57"/><circle cx="188.3" cy="90.4" r="1.57"/><circle cx="187.2" cy="94.6" r="1.57"/><circle cx="190.4" cy="47.9" r="1.57"/><circle cx="183.7" cy="48.0" r="1.57"/><circle cx="190.3" cy="82.5" r="1.57"/><circle cx="190.9" cy="51.2" r="1.57"/><circle cx="191.7" cy="75.9" r="1.57"/><circle cx="187.3" cy="52.8" r="1.57"/><circle cx="186.3" cy="34.4" r="1.57"/><circle cx="186.6" cy="60.4" r="1.57"/><circle cx="191.2" cy="48.3" r="1.57"/><circle cx="191.4" cy="83.5" r="1.57"/><circle cx="186.7" cy="74.2" r="1.57"/><circle cx="187.1" cy="52.1" r="1.57"/><circle cx="188.2" cy="62.7" r="1.57"/><circle cx="184.7" cy="77.3" r="1.57"/><circle cx="188.0" cy="31.7" r="1.57"/><circle cx="191.1" cy="48.7" r="1.57"/><circle cx="183.6" cy="79.0" r="1.57"/><circle cx="185.3" cy="78.4" r="1.57"/><circle cx="184.9" cy="84.8" r="1.57"/><circle cx="182.4" cy="80.2" r="1.57"/><circle cx="187.3" cy="41.2" r="1.57"/><circle cx="184.2" cy="80.5" r="1.57"/><circle cx="182.6" cy="69.9" r="1.57"/><circle cx="181.3" cy="81.1" r="1.57"/><circle cx="183.7" cy="41.0" r="1.57"/><circle cx="182.6" cy="58.1" r="1.57"/><circle cx="181.5" cy="66.3" r="1.57"/><circle cx="192.7" cy="75.2" r="1.57"/><circle cx="184.0" cy="41.5" r="1.57"/><circle cx="185.7" cy="34.0" r="1.57"/><circle cx="191.3" cy="58.1" r="1.57"/><circle cx="186.5" cy="70.8" r="1.57"/><circle cx="185.1" cy="44.2" r="1.57"/><circle cx="192.9" cy="59.5" r="1.57"/><circle cx="185.2" cy="60.2" r="1.57"/><circle cx="189.5" cy="75.6" r="1.57"/><circle cx="183.0" cy="51.4" r="1.57"/><circle cx="182.3" cy="44.8" r="1.57"/><circle cx="183.3" cy="65.7" r="1.57"/><circle cx="182.6" cy="78.9" r="1.57"/><circle cx="183.7" cy="62.4" r="1.57"/><circle cx="181.9" cy="48.1" r="1.57"/><circle cx="181.9" cy="37.8" r="1.57"/><circle cx="184.5" cy="59.1" r="1.57"/><circle cx="186.6" cy="48.1" r="1.57"/><circle cx="185.1" cy="38.7" r="1.57"/><circle cx="184.3" cy="60.8" r="1.57"/><circle cx="189.5" cy="75.9" r="1.57"/><circle cx="192.4" cy="55.2" r="1.57"/><circle cx="185.7" cy="55.2" r="1.57"/><circle cx="186.0" cy="74.1" r="1.57"/><circle cx="190.7" cy="32.7" r="1.57"/><circle cx="188.0" cy="67.7" r="1.57"/><circle cx="183.8" cy="37.9" r="1.57"/><circle cx="188.1" cy="50.3" r="1.57"/><circle cx="191.3" cy="48.7" r="1.57"/><circle cx="185.9" cy="46.9" r="1.57"/><circle cx="189.2" cy="76.1" r="1.57"/><circle cx="187.5" cy="92.2" r="1.57"/><circle cx="181.3" cy="84.2" r="1.57"/><circle cx="182.1" cy="40.7" r="1.57"/><circle cx="184.1" cy="59.6" r="1.57"/><circle cx="182.5" cy="60.4" r="1.57"/><circle cx="184.4" cy="44.0" r="1.57"/><circle cx="183.3" cy="84.4" r="1.57"/><circle cx="185.2" cy="55.7" r="1.57"/><circle cx="184.6" cy="84.8" r="1.57"/><circle cx="191.1" cy="33.9" r="1.57"/><circle cx="186.0" cy="37.7" r="1.57"/><circle cx="187.7" cy="52.1" r="1.57"/><circle cx="184.9" cy="74.3" r="1.57"/><circle cx="186.9" cy="59.2" r="1.57"/><circle cx="187.4" cy="60.6" r="1.57"/><circle cx="188.7" cy="37.6" r="1.57"/><circle cx="187.9" cy="72.1" r="1.57"/><circle cx="185.7" cy="53.2" r="1.57"/><circle cx="183.8" cy="83.8" r="1.57"/><circle cx="189.6" cy="51.7" r="1.57"/><circle cx="187.6" cy="64.7" r="1.57"/><circle cx="187.3" cy="69.6" r="1.57"/><circle cx="188.0" cy="42.1" r="1.57"/><circle cx="192.1" cy="44.7" r="1.57"/><circle cx="183.6" cy="86.2" r="1.57"/><circle cx="181.6" cy="82.2" r="1.57"/><circle cx="191.9" cy="75.8" r="1.57"/><circle cx="189.3" cy="31.2" r="1.57"/><circle cx="183.4" cy="32.0" r="1.57"/><circle cx="185.7" cy="50.7" r="1.57"/><circle cx="182.3" cy="78.8" r="1.57"/><circle cx="181.9" cy="54.8" r="1.57"/><circle cx="185.5" cy="53.0" r="1.57"/><circle cx="182.1" cy="64.5" r="1.57"/><circle cx="182.5" cy="53.3" r="1.57"/><circle cx="191.1" cy="58.5" r="1.57"/><circle cx="190.0" cy="34.4" r="1.57"/><circle cx="191.0" cy="83.7" r="1.57"/><circle cx="182.4" cy="36.5" r="1.57"/><circle cx="191.1" cy="76.2" r="1.57"/><circle cx="183.0" cy="76.4" r="1.57"/><circle cx="187.5" cy="45.9" r="1.57"/><circle cx="183.1" cy="59.7" r="1.57"/><circle cx="183.5" cy="64.7" r="1.57"/><circle cx="184.9" cy="77.4" r="1.57"/><circle cx="181.2" cy="73.1" r="1.57"/><circle cx="181.5" cy="67.5" r="1.57"/><circle cx="192.8" cy="66.0" r="1.57"/><circle cx="181.2" cy="73.4" r="1.57"/><circle cx="184.7" cy="64.1" r="1.57"/><circle cx="187.9" cy="63.0" r="1.57"/><circle cx="184.3" cy="76.9" r="1.57"/><circle cx="187.5" cy="77.2" r="1.57"/><circle cx="189.5" cy="81.3" r="1.57"/><circle cx="189.1" cy="64.9" r="1.57"/><circle cx="187.3" cy="91.3" r="1.57"/><circle cx="184.2" cy="41.2" r="1.57"/><circle cx="181.7" cy="62.1" r="1.57"/><circle cx="191.5" cy="79.7" r="1.57"/><circle cx="192.2" cy="73.7" r="1.57"/><circle cx="187.1" cy="41.3" r="1.57"/><circle cx="183.0" cy="50.4" r="1.57"/><circle cx="190.2" cy="39.7" r="1.57"/><circle cx="192.4" cy="58.3" r="1.57"/><circle cx="184.9" cy="70.4" r="1.57"/><circle cx="189.8" cy="39.5" r="1.57"/><circle cx="186.7" cy="79.0" r="1.57"/><circle cx="192.3" cy="44.4" r="1.57"/><circle cx="188.3" cy="62.4" r="1.57"/><circle cx="187.0" cy="47.3" r="1.57"/><circle cx="192.2" cy="52.4" r="1.57"/><circle cx="187.2" cy="45.8" r="1.57"/><circle cx="190.8" cy="50.3" r="1.57"/><circle cx="190.2" cy="70.1" r="1.57"/><circle cx="189.6" cy="46.5" r="1.57"/><circle cx="190.8" cy="64.7" r="1.57"/><circle cx="187.2" cy="83.7" r="1.57"/><circle cx="186.9" cy="46.1" r="1.57"/><circle cx="185.3" cy="40.3" r="1.57"/><circle cx="186.1" cy="39.6" r="1.57"/><circle cx="190.7" cy="40.4" r="1.57"/><circle cx="188.0" cy="51.2" r="1.57"/><circle cx="188.9" cy="62.2" r="1.57"/><circle cx="183.4" cy="35.4" r="1.57"/><circle cx="184.2" cy="68.3" r="1.57"/><circle cx="187.6" cy="45.6" r="1.57"/><circle cx="184.5" cy="61.9" r="1.57"/><circle cx="190.5" cy="44.4" r="1.57"/><circle cx="192.4" cy="42.4" r="1.57"/><circle cx="187.2" cy="37.6" r="1.57"/><circle cx="181.8" cy="71.0" r="1.57"/><circle cx="188.8" cy="42.1" r="1.57"/><circle cx="188.5" cy="85.8" r="1.57"/><circle cx="190.6" cy="34.4" r="1.57"/><circle cx="182.9" cy="72.8" r="1.57"/><circle cx="189.9" cy="72.8" r="1.57"/><circle cx="188.0" cy="86.8" r="1.57"/><circle cx="185.4" cy="60.2" r="1.57"/><circle cx="191.8" cy="31.6" r="1.57"/><circle cx="191.6" cy="63.0" r="1.57"/><circle cx="184.7" cy="39.0" r="1.57"/><circle cx="191.5" cy="84.0" r="1.57"/><circle cx="185.1" cy="55.0" r="1.57"/><circle cx="192.3" cy="58.8" r="1.57"/><circle cx="187.7" cy="62.6" r="1.57"/><circle cx="189.6" cy="33.5" r="1.57"/><circle cx="182.6" cy="30.5" r="1.57"/><circle cx="186.6" cy="30.3" r="1.57"/><circle cx="191.5" cy="30.3" r="1.57"/><circle cx="184.5" cy="103.8" r="1.57"/><circle cx="181.6" cy="109.2" r="1.57"/><circle cx="181.3" cy="112.0" r="1.57"/><circle cx="182.2" cy="115.2" r="1.57"/><circle cx="184.9" cy="114.9" r="1.57"/><circle cx="187.5" cy="114.6" r="1.57"/><circle cx="190.3" cy="110.2" r="1.57"/><circle cx="191.0" cy="113.0" r="1.57"/><circle cx="192.9" cy="113.7" r="1.57"/><circle cx="192.3" cy="114.6" r="1.57"/><circle cx="184.7" cy="128.9" r="1.57"/><circle cx="189.0" cy="95.7" r="1.57"/>
</g>
<g fill="#D63A4A" stroke="#44464c" stroke-width="0.82">
<circle cx="248.1" cy="129.5" r="1.56"/><circle cx="246.9" cy="135.8" r="1.56"/><circle cx="249.5" cy="129.6" r="1.56"/><circle cx="245.3" cy="110.8" r="1.56"/><circle cx="248.4" cy="73.2" r="1.56"/><circle cx="244.1" cy="122.2" r="1.56"/><circle cx="246.6" cy="110.4" r="1.56"/><circle cx="241.0" cy="108.6" r="1.56"/><circle cx="249.6" cy="75.4" r="1.56"/><circle cx="238.3" cy="83.8" r="1.56"/><circle cx="241.9" cy="102.1" r="1.56"/><circle cx="243.1" cy="145.9" r="1.56"/><circle cx="238.8" cy="75.4" r="1.56"/><circle cx="242.2" cy="94.2" r="1.56"/><circle cx="247.7" cy="105.9" r="1.56"/><circle cx="245.0" cy="82.6" r="1.56"/><circle cx="240.6" cy="77.3" r="1.56"/><circle cx="248.3" cy="129.7" r="1.56"/><circle cx="241.5" cy="68.4" r="1.56"/><circle cx="244.6" cy="106.9" r="1.56"/><circle cx="242.9" cy="123.0" r="1.56"/><circle cx="238.4" cy="74.2" r="1.56"/><circle cx="245.8" cy="102.0" r="1.56"/><circle cx="243.4" cy="123.2" r="1.56"/><circle cx="248.5" cy="100.0" r="1.56"/><circle cx="240.9" cy="116.6" r="1.56"/><circle cx="241.1" cy="88.3" r="1.56"/><circle cx="244.1" cy="145.8" r="1.56"/><circle cx="244.2" cy="110.6" r="1.56"/><circle cx="247.0" cy="144.1" r="1.56"/><circle cx="238.5" cy="86.8" r="1.56"/><circle cx="246.2" cy="111.8" r="1.56"/><circle cx="247.4" cy="144.4" r="1.56"/><circle cx="248.8" cy="125.0" r="1.56"/><circle cx="242.0" cy="125.3" r="1.56"/><circle cx="244.8" cy="88.6" r="1.56"/><circle cx="243.2" cy="138.6" r="1.56"/><circle cx="239.3" cy="89.2" r="1.56"/><circle cx="247.4" cy="140.6" r="1.56"/><circle cx="249.6" cy="131.1" r="1.56"/><circle cx="249.9" cy="124.4" r="1.56"/><circle cx="245.1" cy="78.4" r="1.56"/><circle cx="249.7" cy="78.9" r="1.56"/><circle cx="247.4" cy="117.4" r="1.56"/><circle cx="240.0" cy="129.0" r="1.56"/><circle cx="239.9" cy="89.7" r="1.56"/><circle cx="246.2" cy="88.1" r="1.56"/><circle cx="249.9" cy="92.2" r="1.56"/><circle cx="244.5" cy="101.2" r="1.56"/><circle cx="240.8" cy="110.5" r="1.56"/><circle cx="247.5" cy="94.5" r="1.56"/><circle cx="243.5" cy="113.1" r="1.56"/><circle cx="245.5" cy="90.6" r="1.56"/><circle cx="240.0" cy="72.9" r="1.56"/><circle cx="238.4" cy="86.9" r="1.56"/><circle cx="240.6" cy="91.6" r="1.56"/><circle cx="239.8" cy="95.1" r="1.56"/><circle cx="242.4" cy="98.4" r="1.56"/><circle cx="240.8" cy="118.9" r="1.56"/><circle cx="242.9" cy="115.3" r="1.56"/><circle cx="240.3" cy="113.3" r="1.56"/><circle cx="244.8" cy="68.6" r="1.56"/><circle cx="243.1" cy="70.0" r="1.56"/><circle cx="246.7" cy="83.6" r="1.56"/><circle cx="244.4" cy="84.6" r="1.56"/><circle cx="243.8" cy="135.5" r="1.56"/><circle cx="246.4" cy="73.0" r="1.56"/><circle cx="241.0" cy="95.6" r="1.56"/><circle cx="249.4" cy="100.8" r="1.56"/><circle cx="247.9" cy="105.5" r="1.56"/><circle cx="245.1" cy="139.1" r="1.56"/><circle cx="249.5" cy="143.2" r="1.56"/><circle cx="241.2" cy="97.7" r="1.56"/><circle cx="247.5" cy="73.2" r="1.56"/><circle cx="244.0" cy="109.6" r="1.56"/><circle cx="243.5" cy="82.5" r="1.56"/><circle cx="241.7" cy="135.3" r="1.56"/><circle cx="242.6" cy="140.8" r="1.56"/><circle cx="248.9" cy="112.1" r="1.56"/><circle cx="243.6" cy="77.5" r="1.56"/><circle cx="246.0" cy="72.7" r="1.56"/><circle cx="247.7" cy="114.0" r="1.56"/><circle cx="248.1" cy="88.5" r="1.56"/><circle cx="240.5" cy="93.9" r="1.56"/><circle cx="245.5" cy="101.7" r="1.56"/><circle cx="248.2" cy="126.8" r="1.56"/><circle cx="245.2" cy="124.9" r="1.56"/><circle cx="242.8" cy="132.4" r="1.56"/><circle cx="240.9" cy="93.1" r="1.56"/><circle cx="248.7" cy="102.9" r="1.56"/><circle cx="239.8" cy="113.8" r="1.56"/><circle cx="245.6" cy="90.4" r="1.56"/><circle cx="240.9" cy="83.4" r="1.56"/><circle cx="243.8" cy="73.5" r="1.56"/><circle cx="239.1" cy="129.6" r="1.56"/><circle cx="242.4" cy="83.1" r="1.56"/><circle cx="247.1" cy="123.6" r="1.56"/><circle cx="238.6" cy="113.9" r="1.56"/><circle cx="247.4" cy="83.9" r="1.56"/><circle cx="248.9" cy="76.4" r="1.56"/><circle cx="239.8" cy="121.6" r="1.56"/><circle cx="248.0" cy="135.6" r="1.56"/><circle cx="249.0" cy="113.4" r="1.56"/><circle cx="239.2" cy="117.5" r="1.56"/><circle cx="241.5" cy="140.6" r="1.56"/><circle cx="244.6" cy="104.0" r="1.56"/><circle cx="245.7" cy="124.5" r="1.56"/><circle cx="247.3" cy="114.8" r="1.56"/><circle cx="247.4" cy="70.3" r="1.56"/><circle cx="248.5" cy="73.2" r="1.56"/><circle cx="249.5" cy="95.8" r="1.56"/><circle cx="249.5" cy="120.5" r="1.56"/><circle cx="246.6" cy="83.1" r="1.56"/><circle cx="238.8" cy="128.7" r="1.56"/><circle cx="238.9" cy="77.9" r="1.56"/><circle cx="247.2" cy="84.4" r="1.56"/><circle cx="248.2" cy="82.2" r="1.56"/><circle cx="239.1" cy="137.3" r="1.56"/><circle cx="241.5" cy="135.2" r="1.56"/><circle cx="242.5" cy="96.3" r="1.56"/><circle cx="244.9" cy="91.4" r="1.56"/><circle cx="247.3" cy="129.5" r="1.56"/><circle cx="246.2" cy="141.7" r="1.56"/><circle cx="243.2" cy="84.8" r="1.56"/><circle cx="239.9" cy="98.6" r="1.56"/><circle cx="239.1" cy="83.9" r="1.56"/><circle cx="248.3" cy="81.8" r="1.56"/><circle cx="248.6" cy="108.0" r="1.56"/><circle cx="240.6" cy="145.2" r="1.56"/><circle cx="248.9" cy="89.3" r="1.56"/><circle cx="246.0" cy="111.6" r="1.56"/><circle cx="240.0" cy="81.4" r="1.56"/><circle cx="239.2" cy="118.0" r="1.56"/><circle cx="240.0" cy="114.8" r="1.56"/><circle cx="244.3" cy="69.3" r="1.56"/><circle cx="243.9" cy="100.1" r="1.56"/><circle cx="244.6" cy="116.5" r="1.56"/><circle cx="241.4" cy="129.6" r="1.56"/><circle cx="246.5" cy="136.5" r="1.56"/><circle cx="238.7" cy="127.3" r="1.56"/><circle cx="244.6" cy="81.4" r="1.56"/><circle cx="245.8" cy="126.0" r="1.56"/><circle cx="241.5" cy="95.1" r="1.56"/><circle cx="242.9" cy="122.0" r="1.56"/><circle cx="245.1" cy="86.0" r="1.56"/><circle cx="240.8" cy="124.5" r="1.56"/><circle cx="245.6" cy="82.9" r="1.56"/><circle cx="242.5" cy="87.8" r="1.56"/><circle cx="244.9" cy="111.2" r="1.56"/><circle cx="245.6" cy="66.5" r="1.56"/><circle cx="241.4" cy="101.6" r="1.56"/><circle cx="245.1" cy="78.6" r="1.56"/><circle cx="238.8" cy="127.4" r="1.56"/><circle cx="244.1" cy="113.1" r="1.56"/><circle cx="244.4" cy="118.0" r="1.56"/><circle cx="245.9" cy="131.4" r="1.56"/><circle cx="240.6" cy="106.5" r="1.56"/><circle cx="243.4" cy="84.0" r="1.56"/><circle cx="238.9" cy="117.6" r="1.56"/><circle cx="242.1" cy="99.7" r="1.56"/><circle cx="244.7" cy="115.4" r="1.56"/><circle cx="248.6" cy="124.0" r="1.56"/><circle cx="246.6" cy="92.3" r="1.56"/><circle cx="244.4" cy="88.4" r="1.56"/><circle cx="249.8" cy="127.5" r="1.56"/><circle cx="247.5" cy="129.4" r="1.56"/><circle cx="245.5" cy="109.4" r="1.56"/><circle cx="246.5" cy="102.9" r="1.56"/><circle cx="246.8" cy="134.3" r="1.56"/><circle cx="244.9" cy="76.6" r="1.56"/><circle cx="240.3" cy="140.6" r="1.56"/><circle cx="239.4" cy="109.2" r="1.56"/><circle cx="244.4" cy="88.1" r="1.56"/><circle cx="240.4" cy="114.5" r="1.56"/><circle cx="243.0" cy="90.2" r="1.56"/><circle cx="245.6" cy="81.7" r="1.56"/><circle cx="242.5" cy="102.2" r="1.56"/><circle cx="240.5" cy="118.6" r="1.56"/><circle cx="248.8" cy="142.2" r="1.56"/><circle cx="249.7" cy="103.8" r="1.56"/><circle cx="239.8" cy="111.8" r="1.56"/><circle cx="242.5" cy="111.2" r="1.56"/><circle cx="249.8" cy="115.1" r="1.56"/><circle cx="245.4" cy="130.5" r="1.56"/><circle cx="244.9" cy="102.3" r="1.56"/><circle cx="249.5" cy="95.7" r="1.56"/><circle cx="246.4" cy="126.7" r="1.56"/><circle cx="243.5" cy="140.7" r="1.56"/><circle cx="246.7" cy="72.2" r="1.56"/><circle cx="245.6" cy="133.8" r="1.56"/><circle cx="239.2" cy="100.2" r="1.56"/><circle cx="246.1" cy="104.6" r="1.56"/><circle cx="242.4" cy="93.5" r="1.56"/><circle cx="248.1" cy="75.4" r="1.56"/><circle cx="248.1" cy="99.1" r="1.56"/><circle cx="249.9" cy="94.4" r="1.56"/><circle cx="245.6" cy="105.4" r="1.56"/><circle cx="244.7" cy="141.0" r="1.56"/><circle cx="241.9" cy="91.1" r="1.56"/><circle cx="243.8" cy="129.2" r="1.56"/><circle cx="249.3" cy="86.5" r="1.56"/><circle cx="242.5" cy="110.7" r="1.56"/><circle cx="244.7" cy="104.5" r="1.56"/><circle cx="246.9" cy="103.8" r="1.56"/><circle cx="243.9" cy="73.5" r="1.56"/><circle cx="240.0" cy="117.1" r="1.56"/><circle cx="240.1" cy="70.8" r="1.56"/><circle cx="242.4" cy="88.4" r="1.56"/><circle cx="240.7" cy="96.4" r="1.56"/><circle cx="244.9" cy="69.8" r="1.56"/><circle cx="241.5" cy="143.5" r="1.56"/><circle cx="246.6" cy="87.4" r="1.56"/><circle cx="248.2" cy="135.7" r="1.56"/><circle cx="246.4" cy="114.1" r="1.56"/><circle cx="240.9" cy="132.7" r="1.56"/><circle cx="249.6" cy="87.7" r="1.56"/><circle cx="245.6" cy="77.6" r="1.56"/><circle cx="248.5" cy="102.8" r="1.56"/><circle cx="243.6" cy="139.2" r="1.56"/><circle cx="244.6" cy="136.1" r="1.56"/><circle cx="247.8" cy="98.5" r="1.56"/><circle cx="247.7" cy="131.2" r="1.56"/><circle cx="243.6" cy="103.6" r="1.56"/><circle cx="240.9" cy="89.3" r="1.56"/><circle cx="246.2" cy="69.4" r="1.56"/><circle cx="238.8" cy="73.9" r="1.56"/><circle cx="247.6" cy="80.0" r="1.56"/><circle cx="239.8" cy="129.2" r="1.56"/><circle cx="246.8" cy="88.3" r="1.56"/><circle cx="240.6" cy="125.5" r="1.56"/><circle cx="248.5" cy="121.0" r="1.56"/><circle cx="239.4" cy="83.1" r="1.56"/><circle cx="245.4" cy="105.9" r="1.56"/><circle cx="243.8" cy="140.4" r="1.56"/><circle cx="246.2" cy="108.8" r="1.56"/><circle cx="238.6" cy="73.0" r="1.56"/><circle cx="246.7" cy="114.4" r="1.56"/><circle cx="241.9" cy="78.0" r="1.56"/><circle cx="247.7" cy="117.8" r="1.56"/><circle cx="249.6" cy="103.9" r="1.56"/><circle cx="248.0" cy="140.4" r="1.56"/><circle cx="239.3" cy="145.6" r="1.56"/><circle cx="248.1" cy="86.7" r="1.56"/><circle cx="242.1" cy="93.5" r="1.56"/><circle cx="247.7" cy="142.7" r="1.56"/><circle cx="248.4" cy="108.6" r="1.56"/><circle cx="238.4" cy="119.6" r="1.56"/><circle cx="242.8" cy="81.8" r="1.56"/><circle cx="247.5" cy="108.5" r="1.56"/><circle cx="239.9" cy="75.3" r="1.56"/><circle cx="246.9" cy="113.8" r="1.56"/><circle cx="241.1" cy="112.2" r="1.56"/><circle cx="243.4" cy="73.1" r="1.56"/><circle cx="242.4" cy="87.0" r="1.56"/><circle cx="246.5" cy="116.0" r="1.56"/><circle cx="239.0" cy="119.3" r="1.56"/><circle cx="241.2" cy="117.9" r="1.56"/><circle cx="246.5" cy="118.2" r="1.56"/><circle cx="239.8" cy="121.6" r="1.56"/><circle cx="246.3" cy="127.7" r="1.56"/><circle cx="248.3" cy="107.8" r="1.56"/><circle cx="245.9" cy="80.6" r="1.56"/><circle cx="245.3" cy="49.7" r="1.56"/><circle cx="248.6" cy="51.2" r="1.56"/><circle cx="238.5" cy="53.1" r="1.56"/><circle cx="243.8" cy="56.7" r="1.56"/><circle cx="244.0" cy="60.0" r="1.56"/><circle cx="249.5" cy="60.6" r="1.56"/><circle cx="241.4" cy="60.6" r="1.56"/><circle cx="240.9" cy="63.2" r="1.56"/><circle cx="248.9" cy="63.2" r="1.56"/><circle cx="243.1" cy="65.7" r="1.56"/><circle cx="247.9" cy="67.0" r="1.56"/><circle cx="240.9" cy="67.7" r="1.56"/><circle cx="249.5" cy="143.9" r="1.56"/><circle cx="245.7" cy="145.8" r="1.56"/><circle cx="242.5" cy="147.7" r="1.56"/><circle cx="245.0" cy="148.8" r="1.56"/><circle cx="244.0" cy="151.6" r="1.56"/><circle cx="243.1" cy="153.9" r="1.56"/><circle cx="241.4" cy="156.5" r="1.56"/><circle cx="239.3" cy="158.7" r="1.56"/>
</g>
<g fill="#7A6AC8" stroke="#44464c" stroke-width="0.9">
<circle cx="301.0" cy="86.3" r="1.53"/><circle cx="302.7" cy="140.4" r="1.53"/><circle cx="304.0" cy="106.9" r="1.53"/><circle cx="296.2" cy="125.0" r="1.53"/><circle cx="299.7" cy="107.2" r="1.53"/><circle cx="305.6" cy="107.8" r="1.53"/><circle cx="295.8" cy="127.8" r="1.53"/><circle cx="298.6" cy="135.1" r="1.53"/><circle cx="305.8" cy="100.1" r="1.53"/><circle cx="298.4" cy="121.2" r="1.53"/><circle cx="305.5" cy="133.8" r="1.53"/><circle cx="305.1" cy="137.9" r="1.53"/><circle cx="299.3" cy="96.5" r="1.53"/><circle cx="299.9" cy="123.1" r="1.53"/><circle cx="304.6" cy="92.1" r="1.53"/><circle cx="296.9" cy="103.4" r="1.53"/><circle cx="300.7" cy="97.1" r="1.53"/><circle cx="304.8" cy="111.1" r="1.53"/><circle cx="299.4" cy="88.4" r="1.53"/><circle cx="295.9" cy="139.3" r="1.53"/><circle cx="303.5" cy="121.4" r="1.53"/><circle cx="296.3" cy="91.7" r="1.53"/><circle cx="298.2" cy="81.9" r="1.53"/><circle cx="304.5" cy="134.3" r="1.53"/><circle cx="296.7" cy="132.2" r="1.53"/><circle cx="302.8" cy="89.1" r="1.53"/><circle cx="303.1" cy="113.4" r="1.53"/><circle cx="299.5" cy="117.2" r="1.53"/><circle cx="303.2" cy="82.3" r="1.53"/><circle cx="302.1" cy="100.6" r="1.53"/><circle cx="303.6" cy="117.4" r="1.53"/><circle cx="303.0" cy="116.8" r="1.53"/><circle cx="301.2" cy="98.4" r="1.53"/><circle cx="304.1" cy="124.6" r="1.53"/><circle cx="301.4" cy="83.4" r="1.53"/><circle cx="300.7" cy="129.6" r="1.53"/><circle cx="295.4" cy="124.5" r="1.53"/><circle cx="299.5" cy="87.2" r="1.53"/><circle cx="296.6" cy="109.6" r="1.53"/><circle cx="303.7" cy="91.4" r="1.53"/><circle cx="297.4" cy="97.9" r="1.53"/><circle cx="300.7" cy="96.8" r="1.53"/><circle cx="296.9" cy="124.4" r="1.53"/><circle cx="302.8" cy="73.5" r="1.53"/><circle cx="303.6" cy="102.6" r="1.53"/><circle cx="304.7" cy="104.7" r="1.53"/><circle cx="296.6" cy="86.6" r="1.53"/><circle cx="300.2" cy="100.8" r="1.53"/><circle cx="297.9" cy="113.2" r="1.53"/><circle cx="306.8" cy="122.9" r="1.53"/><circle cx="302.2" cy="99.2" r="1.53"/><circle cx="298.7" cy="127.9" r="1.53"/><circle cx="300.8" cy="109.3" r="1.53"/><circle cx="304.2" cy="86.6" r="1.53"/><circle cx="304.1" cy="97.1" r="1.53"/><circle cx="300.2" cy="111.9" r="1.53"/><circle cx="305.3" cy="122.2" r="1.53"/><circle cx="304.9" cy="92.0" r="1.53"/><circle cx="295.9" cy="96.7" r="1.53"/><circle cx="296.9" cy="93.2" r="1.53"/><circle cx="301.1" cy="78.9" r="1.53"/><circle cx="297.6" cy="103.6" r="1.53"/><circle cx="301.3" cy="133.4" r="1.53"/><circle cx="296.7" cy="140.8" r="1.53"/><circle cx="302.3" cy="124.8" r="1.53"/><circle cx="297.1" cy="97.3" r="1.53"/><circle cx="298.9" cy="114.1" r="1.53"/><circle cx="298.5" cy="117.3" r="1.53"/><circle cx="304.8" cy="131.8" r="1.53"/><circle cx="301.4" cy="99.1" r="1.53"/><circle cx="302.8" cy="89.5" r="1.53"/><circle cx="298.6" cy="88.9" r="1.53"/><circle cx="303.8" cy="110.8" r="1.53"/><circle cx="297.8" cy="97.8" r="1.53"/><circle cx="305.8" cy="78.8" r="1.53"/><circle cx="304.6" cy="135.1" r="1.53"/><circle cx="304.6" cy="83.2" r="1.53"/><circle cx="295.5" cy="90.0" r="1.53"/><circle cx="299.1" cy="78.2" r="1.53"/><circle cx="302.7" cy="102.9" r="1.53"/><circle cx="296.2" cy="135.7" r="1.53"/><circle cx="300.3" cy="132.8" r="1.53"/><circle cx="295.7" cy="96.2" r="1.53"/><circle cx="295.9" cy="100.0" r="1.53"/><circle cx="297.5" cy="124.5" r="1.53"/><circle cx="296.1" cy="111.8" r="1.53"/><circle cx="302.7" cy="92.8" r="1.53"/><circle cx="305.3" cy="112.7" r="1.53"/><circle cx="300.5" cy="84.1" r="1.53"/><circle cx="296.7" cy="129.7" r="1.53"/><circle cx="298.2" cy="128.7" r="1.53"/><circle cx="305.2" cy="123.3" r="1.53"/><circle cx="305.0" cy="100.7" r="1.53"/><circle cx="297.2" cy="87.5" r="1.53"/><circle cx="302.2" cy="90.7" r="1.53"/><circle cx="298.5" cy="131.6" r="1.53"/><circle cx="299.3" cy="81.7" r="1.53"/><circle cx="299.9" cy="122.1" r="1.53"/><circle cx="299.7" cy="115.1" r="1.53"/><circle cx="301.9" cy="103.1" r="1.53"/><circle cx="301.2" cy="128.3" r="1.53"/><circle cx="306.4" cy="114.8" r="1.53"/><circle cx="298.3" cy="72.6" r="1.53"/><circle cx="304.1" cy="88.0" r="1.53"/><circle cx="304.6" cy="73.8" r="1.53"/><circle cx="306.6" cy="98.3" r="1.53"/><circle cx="302.0" cy="97.8" r="1.53"/><circle cx="303.5" cy="123.6" r="1.53"/><circle cx="298.5" cy="98.3" r="1.53"/><circle cx="298.3" cy="79.2" r="1.53"/><circle cx="303.6" cy="132.5" r="1.53"/><circle cx="295.7" cy="111.5" r="1.53"/><circle cx="305.2" cy="126.9" r="1.53"/><circle cx="299.8" cy="83.8" r="1.53"/><circle cx="306.5" cy="132.9" r="1.53"/><circle cx="296.8" cy="140.8" r="1.53"/><circle cx="298.4" cy="109.4" r="1.53"/><circle cx="298.9" cy="80.5" r="1.53"/><circle cx="305.3" cy="76.1" r="1.53"/><circle cx="304.8" cy="84.2" r="1.53"/><circle cx="306.7" cy="97.3" r="1.53"/><circle cx="300.5" cy="115.0" r="1.53"/><circle cx="296.1" cy="109.3" r="1.53"/><circle cx="302.3" cy="85.1" r="1.53"/><circle cx="304.8" cy="84.8" r="1.53"/><circle cx="300.0" cy="106.7" r="1.53"/><circle cx="302.7" cy="85.8" r="1.53"/><circle cx="306.0" cy="117.8" r="1.53"/><circle cx="305.9" cy="85.5" r="1.53"/><circle cx="298.7" cy="108.5" r="1.53"/><circle cx="303.8" cy="81.5" r="1.53"/><circle cx="297.2" cy="76.7" r="1.53"/><circle cx="296.0" cy="91.8" r="1.53"/><circle cx="304.6" cy="104.9" r="1.53"/><circle cx="302.7" cy="125.4" r="1.53"/><circle cx="299.8" cy="132.0" r="1.53"/><circle cx="304.5" cy="134.5" r="1.53"/><circle cx="300.1" cy="89.4" r="1.53"/><circle cx="304.6" cy="126.8" r="1.53"/><circle cx="305.2" cy="113.7" r="1.53"/><circle cx="296.7" cy="105.8" r="1.53"/><circle cx="297.0" cy="89.1" r="1.53"/><circle cx="297.1" cy="120.4" r="1.53"/><circle cx="302.5" cy="93.4" r="1.53"/><circle cx="299.4" cy="120.0" r="1.53"/><circle cx="305.2" cy="97.0" r="1.53"/><circle cx="300.9" cy="85.9" r="1.53"/><circle cx="302.1" cy="93.3" r="1.53"/><circle cx="301.6" cy="131.0" r="1.53"/><circle cx="297.2" cy="110.2" r="1.53"/><circle cx="304.5" cy="95.6" r="1.53"/><circle cx="301.2" cy="130.1" r="1.53"/><circle cx="301.3" cy="101.7" r="1.53"/><circle cx="304.7" cy="78.3" r="1.53"/><circle cx="304.6" cy="117.8" r="1.53"/><circle cx="305.9" cy="123.1" r="1.53"/><circle cx="303.4" cy="80.3" r="1.53"/><circle cx="307.0" cy="129.1" r="1.53"/><circle cx="306.3" cy="128.1" r="1.53"/><circle cx="295.9" cy="94.7" r="1.53"/><circle cx="297.3" cy="95.5" r="1.53"/><circle cx="304.5" cy="104.4" r="1.53"/><circle cx="300.8" cy="118.8" r="1.53"/><circle cx="302.0" cy="90.2" r="1.53"/><circle cx="305.2" cy="86.5" r="1.53"/><circle cx="299.4" cy="85.8" r="1.53"/><circle cx="299.2" cy="133.2" r="1.53"/><circle cx="300.4" cy="116.0" r="1.53"/><circle cx="295.4" cy="130.7" r="1.53"/><circle cx="295.9" cy="104.4" r="1.53"/><circle cx="297.2" cy="119.3" r="1.53"/><circle cx="302.8" cy="133.5" r="1.53"/><circle cx="301.7" cy="83.2" r="1.53"/><circle cx="299.0" cy="130.8" r="1.53"/><circle cx="300.6" cy="91.9" r="1.53"/><circle cx="297.7" cy="103.6" r="1.53"/><circle cx="296.0" cy="91.4" r="1.53"/><circle cx="303.5" cy="93.5" r="1.53"/><circle cx="302.2" cy="113.6" r="1.53"/><circle cx="306.7" cy="113.5" r="1.53"/><circle cx="303.0" cy="123.1" r="1.53"/><circle cx="301.6" cy="84.6" r="1.53"/><circle cx="298.7" cy="113.3" r="1.53"/><circle cx="301.5" cy="94.3" r="1.53"/><circle cx="303.2" cy="72.3" r="1.53"/><circle cx="298.4" cy="79.7" r="1.53"/><circle cx="304.7" cy="89.7" r="1.53"/><circle cx="303.4" cy="90.8" r="1.53"/><circle cx="298.8" cy="131.8" r="1.53"/><circle cx="302.4" cy="133.0" r="1.53"/><circle cx="306.1" cy="107.6" r="1.53"/><circle cx="305.4" cy="115.4" r="1.53"/><circle cx="300.7" cy="79.9" r="1.53"/><circle cx="299.8" cy="132.1" r="1.53"/><circle cx="305.8" cy="86.1" r="1.53"/><circle cx="296.3" cy="114.5" r="1.53"/><circle cx="296.9" cy="131.4" r="1.53"/><circle cx="300.0" cy="115.7" r="1.53"/><circle cx="301.3" cy="89.7" r="1.53"/><circle cx="306.0" cy="103.2" r="1.53"/><circle cx="303.4" cy="130.7" r="1.53"/><circle cx="299.9" cy="107.0" r="1.53"/><circle cx="298.4" cy="89.4" r="1.53"/><circle cx="299.1" cy="113.0" r="1.53"/><circle cx="295.8" cy="124.3" r="1.53"/><circle cx="295.8" cy="112.6" r="1.53"/><circle cx="301.6" cy="106.4" r="1.53"/><circle cx="305.7" cy="85.4" r="1.53"/><circle cx="303.3" cy="99.3" r="1.53"/><circle cx="304.6" cy="104.0" r="1.53"/><circle cx="298.6" cy="120.7" r="1.53"/><circle cx="304.5" cy="79.6" r="1.53"/><circle cx="306.7" cy="88.5" r="1.53"/><circle cx="301.2" cy="131.5" r="1.53"/><circle cx="305.2" cy="91.0" r="1.53"/><circle cx="305.9" cy="135.5" r="1.53"/><circle cx="305.0" cy="93.3" r="1.53"/><circle cx="305.0" cy="122.4" r="1.53"/><circle cx="303.6" cy="89.0" r="1.53"/><circle cx="297.7" cy="76.8" r="1.53"/><circle cx="297.2" cy="107.5" r="1.53"/><circle cx="300.8" cy="87.2" r="1.53"/><circle cx="305.1" cy="84.2" r="1.53"/><circle cx="296.6" cy="123.5" r="1.53"/><circle cx="298.0" cy="129.8" r="1.53"/><circle cx="306.5" cy="103.5" r="1.53"/><circle cx="302.6" cy="73.3" r="1.53"/><circle cx="303.2" cy="119.8" r="1.53"/><circle cx="301.2" cy="121.6" r="1.53"/><circle cx="304.1" cy="113.9" r="1.53"/><circle cx="303.7" cy="100.0" r="1.53"/><circle cx="304.0" cy="116.0" r="1.53"/><circle cx="303.2" cy="120.2" r="1.53"/><circle cx="297.5" cy="100.6" r="1.53"/><circle cx="298.5" cy="75.5" r="1.53"/><circle cx="296.4" cy="105.1" r="1.53"/><circle cx="304.6" cy="111.4" r="1.53"/><circle cx="295.3" cy="87.8" r="1.53"/><circle cx="296.6" cy="124.4" r="1.53"/><circle cx="304.4" cy="140.2" r="1.53"/><circle cx="303.4" cy="117.7" r="1.53"/><circle cx="296.4" cy="115.9" r="1.53"/><circle cx="306.4" cy="105.4" r="1.53"/><circle cx="303.3" cy="101.1" r="1.53"/><circle cx="296.0" cy="113.3" r="1.53"/><circle cx="305.2" cy="85.5" r="1.53"/><circle cx="297.7" cy="77.5" r="1.53"/><circle cx="306.8" cy="133.8" r="1.53"/><circle cx="300.5" cy="119.0" r="1.53"/><circle cx="304.8" cy="80.2" r="1.53"/><circle cx="303.8" cy="97.6" r="1.53"/><circle cx="304.1" cy="131.1" r="1.53"/><circle cx="299.5" cy="83.7" r="1.53"/><circle cx="305.6" cy="106.1" r="1.53"/><circle cx="306.0" cy="120.1" r="1.53"/><circle cx="299.4" cy="75.4" r="1.53"/><circle cx="300.2" cy="106.1" r="1.53"/><circle cx="297.7" cy="72.3" r="1.53"/><circle cx="305.0" cy="88.3" r="1.53"/><circle cx="296.1" cy="118.6" r="1.53"/><circle cx="305.5" cy="118.4" r="1.53"/><circle cx="301.6" cy="79.7" r="1.53"/><circle cx="306.2" cy="118.5" r="1.53"/><circle cx="300.7" cy="83.7" r="1.53"/><circle cx="297.9" cy="96.5" r="1.53"/><circle cx="306.0" cy="111.5" r="1.53"/><circle cx="306.4" cy="92.9" r="1.53"/><circle cx="306.7" cy="117.7" r="1.53"/><circle cx="306.0" cy="74.3" r="1.53"/><circle cx="297.6" cy="96.0" r="1.53"/><circle cx="304.2" cy="127.9" r="1.53"/><circle cx="299.6" cy="90.6" r="1.53"/><circle cx="296.3" cy="110.4" r="1.53"/><circle cx="305.8" cy="112.2" r="1.53"/><circle cx="297.8" cy="90.5" r="1.53"/><circle cx="306.8" cy="81.2" r="1.53"/><circle cx="297.2" cy="132.1" r="1.53"/><circle cx="301.7" cy="83.0" r="1.53"/><circle cx="305.0" cy="114.3" r="1.53"/><circle cx="298.1" cy="111.3" r="1.53"/><circle cx="296.5" cy="74.3" r="1.53"/><circle cx="305.8" cy="125.3" r="1.53"/><circle cx="297.7" cy="77.5" r="1.53"/><circle cx="301.6" cy="82.0" r="1.53"/><circle cx="306.0" cy="116.4" r="1.53"/><circle cx="301.5" cy="115.5" r="1.53"/><circle cx="298.5" cy="81.3" r="1.53"/><circle cx="301.8" cy="120.2" r="1.53"/><circle cx="306.9" cy="90.8" r="1.53"/><circle cx="304.5" cy="122.4" r="1.53"/><circle cx="296.8" cy="91.4" r="1.53"/><circle cx="307.1" cy="130.6" r="1.53"/><circle cx="304.6" cy="94.7" r="1.53"/><circle cx="296.4" cy="108.9" r="1.53"/><circle cx="301.3" cy="134.7" r="1.53"/><circle cx="300.4" cy="124.2" r="1.53"/><circle cx="301.4" cy="127.1" r="1.53"/><circle cx="305.7" cy="105.1" r="1.53"/><circle cx="296.1" cy="104.8" r="1.53"/><circle cx="299.3" cy="123.4" r="1.53"/><circle cx="305.2" cy="116.3" r="1.53"/><circle cx="302.2" cy="110.3" r="1.53"/><circle cx="303.9" cy="120.0" r="1.53"/><circle cx="301.8" cy="126.3" r="1.53"/><circle cx="303.2" cy="120.1" r="1.53"/><circle cx="302.1" cy="97.8" r="1.53"/><circle cx="296.4" cy="127.2" r="1.53"/><circle cx="298.7" cy="82.9" r="1.53"/><circle cx="304.7" cy="137.5" r="1.53"/><circle cx="306.4" cy="96.6" r="1.53"/><circle cx="298.4" cy="100.1" r="1.53"/><circle cx="297.7" cy="78.7" r="1.53"/><circle cx="302.5" cy="138.2" r="1.53"/><circle cx="302.9" cy="85.4" r="1.53"/><circle cx="305.0" cy="113.5" r="1.53"/><circle cx="299.6" cy="89.1" r="1.53"/><circle cx="305.9" cy="119.6" r="1.53"/><circle cx="303.1" cy="140.5" r="1.53"/><circle cx="304.6" cy="109.9" r="1.53"/><circle cx="303.5" cy="135.3" r="1.53"/><circle cx="305.8" cy="134.0" r="1.53"/><circle cx="300.5" cy="89.1" r="1.53"/><circle cx="306.4" cy="128.7" r="1.53"/><circle cx="299.4" cy="77.0" r="1.53"/><circle cx="298.1" cy="105.6" r="1.53"/><circle cx="299.8" cy="123.5" r="1.53"/><circle cx="305.7" cy="74.5" r="1.53"/><circle cx="300.0" cy="130.7" r="1.53"/><circle cx="300.6" cy="109.1" r="1.53"/><circle cx="303.3" cy="128.8" r="1.53"/><circle cx="304.1" cy="80.1" r="1.53"/><circle cx="305.0" cy="85.2" r="1.53"/><circle cx="305.5" cy="111.5" r="1.53"/><circle cx="304.4" cy="60.0" r="1.53"/><circle cx="300.4" cy="66.1" r="1.53"/><circle cx="298.9" cy="68.9" r="1.53"/><circle cx="301.7" cy="70.6" r="1.53"/><circle cx="304.9" cy="71.2" r="1.53"/><circle cx="295.5" cy="73.6" r="1.53"/><circle cx="295.0" cy="145.0" r="1.53"/><circle cx="297.8" cy="143.7" r="1.53"/><circle cx="304.6" cy="143.0" r="1.53"/><circle cx="303.6" cy="146.2" r="1.53"/><circle cx="297.2" cy="148.6" r="1.53"/><circle cx="298.9" cy="150.7" r="1.53"/><circle cx="305.3" cy="152.0" r="1.53"/><circle cx="295.5" cy="155.3" r="1.53"/>
</g>
<g fill="#9E7852" stroke="#44464c" stroke-width="1.0">
<circle cx="361.9" cy="76.0" r="1.48"/><circle cx="363.8" cy="68.5" r="1.48"/><circle cx="359.9" cy="91.5" r="1.48"/><circle cx="352.6" cy="71.6" r="1.48"/><circle cx="360.1" cy="63.6" r="1.48"/><circle cx="354.0" cy="75.4" r="1.48"/><circle cx="361.9" cy="65.1" r="1.48"/><circle cx="354.3" cy="97.2" r="1.48"/><circle cx="363.7" cy="65.5" r="1.48"/><circle cx="354.2" cy="73.1" r="1.48"/><circle cx="358.0" cy="91.7" r="1.48"/><circle cx="357.0" cy="117.0" r="1.48"/><circle cx="354.0" cy="93.0" r="1.48"/><circle cx="356.9" cy="89.7" r="1.48"/><circle cx="356.6" cy="112.5" r="1.48"/><circle cx="357.2" cy="82.4" r="1.48"/><circle cx="357.0" cy="67.0" r="1.48"/><circle cx="363.7" cy="95.0" r="1.48"/><circle cx="355.7" cy="75.9" r="1.48"/><circle cx="359.3" cy="68.3" r="1.48"/><circle cx="363.0" cy="93.4" r="1.48"/><circle cx="361.0" cy="73.7" r="1.48"/><circle cx="357.1" cy="76.3" r="1.48"/><circle cx="352.5" cy="90.0" r="1.48"/><circle cx="362.6" cy="80.9" r="1.48"/><circle cx="362.8" cy="84.0" r="1.48"/><circle cx="357.8" cy="83.1" r="1.48"/><circle cx="360.3" cy="66.7" r="1.48"/><circle cx="359.6" cy="103.1" r="1.48"/><circle cx="361.7" cy="111.7" r="1.48"/><circle cx="357.9" cy="82.4" r="1.48"/><circle cx="353.6" cy="72.8" r="1.48"/><circle cx="354.0" cy="65.5" r="1.48"/><circle cx="357.6" cy="64.8" r="1.48"/><circle cx="357.6" cy="64.8" r="1.48"/><circle cx="363.1" cy="66.3" r="1.48"/><circle cx="360.3" cy="101.8" r="1.48"/><circle cx="360.7" cy="76.4" r="1.48"/><circle cx="352.7" cy="103.5" r="1.48"/><circle cx="354.1" cy="68.3" r="1.48"/><circle cx="362.7" cy="81.4" r="1.48"/><circle cx="361.1" cy="82.6" r="1.48"/><circle cx="363.8" cy="63.7" r="1.48"/><circle cx="355.5" cy="103.8" r="1.48"/><circle cx="362.3" cy="83.2" r="1.48"/><circle cx="359.0" cy="63.7" r="1.48"/><circle cx="358.7" cy="58.4" r="1.48"/><circle cx="361.4" cy="108.6" r="1.48"/><circle cx="354.5" cy="99.6" r="1.48"/><circle cx="355.5" cy="63.2" r="1.48"/><circle cx="353.8" cy="91.6" r="1.48"/><circle cx="362.7" cy="80.9" r="1.48"/><circle cx="360.2" cy="86.3" r="1.48"/><circle cx="356.9" cy="85.4" r="1.48"/><circle cx="353.5" cy="105.5" r="1.48"/><circle cx="363.7" cy="72.2" r="1.48"/><circle cx="361.3" cy="70.1" r="1.48"/><circle cx="355.8" cy="77.4" r="1.48"/><circle cx="357.4" cy="64.6" r="1.48"/><circle cx="354.2" cy="92.7" r="1.48"/><circle cx="363.5" cy="75.3" r="1.48"/><circle cx="361.4" cy="70.1" r="1.48"/><circle cx="363.1" cy="77.6" r="1.48"/><circle cx="355.1" cy="86.3" r="1.48"/><circle cx="356.6" cy="116.6" r="1.48"/><circle cx="360.9" cy="63.0" r="1.48"/><circle cx="357.1" cy="68.0" r="1.48"/><circle cx="356.6" cy="76.0" r="1.48"/><circle cx="355.8" cy="87.3" r="1.48"/><circle cx="359.4" cy="76.3" r="1.48"/><circle cx="355.4" cy="69.8" r="1.48"/><circle cx="359.0" cy="88.2" r="1.48"/><circle cx="361.7" cy="69.6" r="1.48"/><circle cx="354.5" cy="84.8" r="1.48"/><circle cx="355.2" cy="70.5" r="1.48"/><circle cx="361.3" cy="88.8" r="1.48"/><circle cx="353.2" cy="86.5" r="1.48"/><circle cx="360.3" cy="62.8" r="1.48"/><circle cx="358.5" cy="77.5" r="1.48"/><circle cx="363.4" cy="80.5" r="1.48"/><circle cx="357.1" cy="106.3" r="1.48"/><circle cx="352.8" cy="94.4" r="1.48"/><circle cx="360.8" cy="83.4" r="1.48"/><circle cx="355.4" cy="79.1" r="1.48"/><circle cx="362.6" cy="118.2" r="1.48"/><circle cx="363.7" cy="88.2" r="1.48"/><circle cx="357.0" cy="109.3" r="1.48"/><circle cx="361.8" cy="62.3" r="1.48"/><circle cx="362.1" cy="90.5" r="1.48"/><circle cx="358.5" cy="60.5" r="1.48"/><circle cx="358.1" cy="75.7" r="1.48"/><circle cx="363.6" cy="69.7" r="1.48"/><circle cx="354.0" cy="79.8" r="1.48"/><circle cx="354.1" cy="59.9" r="1.48"/><circle cx="362.3" cy="92.5" r="1.48"/><circle cx="354.6" cy="75.8" r="1.48"/><circle cx="355.0" cy="69.1" r="1.48"/><circle cx="358.0" cy="78.9" r="1.48"/><circle cx="356.7" cy="74.4" r="1.48"/><circle cx="354.6" cy="92.7" r="1.48"/><circle cx="355.4" cy="89.1" r="1.48"/><circle cx="356.4" cy="85.7" r="1.48"/><circle cx="354.1" cy="67.6" r="1.48"/><circle cx="363.0" cy="93.8" r="1.48"/><circle cx="360.3" cy="113.5" r="1.48"/><circle cx="354.9" cy="74.0" r="1.48"/><circle cx="360.4" cy="62.4" r="1.48"/><circle cx="359.9" cy="85.3" r="1.48"/><circle cx="362.0" cy="112.9" r="1.48"/><circle cx="357.8" cy="73.2" r="1.48"/><circle cx="359.9" cy="108.0" r="1.48"/><circle cx="354.5" cy="81.9" r="1.48"/><circle cx="363.0" cy="68.8" r="1.48"/><circle cx="353.1" cy="69.7" r="1.48"/><circle cx="353.5" cy="83.9" r="1.48"/><circle cx="359.3" cy="88.4" r="1.48"/><circle cx="353.7" cy="82.9" r="1.48"/><circle cx="354.7" cy="81.5" r="1.48"/><circle cx="362.6" cy="93.6" r="1.48"/><circle cx="357.3" cy="61.6" r="1.48"/><circle cx="353.5" cy="62.2" r="1.48"/><circle cx="362.9" cy="83.8" r="1.48"/><circle cx="359.6" cy="64.9" r="1.48"/><circle cx="362.2" cy="85.6" r="1.48"/><circle cx="357.8" cy="80.5" r="1.48"/><circle cx="360.0" cy="58.8" r="1.48"/><circle cx="355.0" cy="91.1" r="1.48"/><circle cx="357.2" cy="115.0" r="1.48"/><circle cx="361.4" cy="61.8" r="1.48"/><circle cx="361.9" cy="104.4" r="1.48"/><circle cx="361.3" cy="102.2" r="1.48"/><circle cx="355.1" cy="88.3" r="1.48"/><circle cx="358.1" cy="112.6" r="1.48"/><circle cx="354.7" cy="64.5" r="1.48"/><circle cx="360.8" cy="61.5" r="1.48"/><circle cx="359.1" cy="66.6" r="1.48"/><circle cx="355.9" cy="80.3" r="1.48"/><circle cx="354.2" cy="90.2" r="1.48"/><circle cx="360.8" cy="94.6" r="1.48"/><circle cx="354.7" cy="81.2" r="1.48"/><circle cx="354.6" cy="112.6" r="1.48"/><circle cx="359.9" cy="71.2" r="1.48"/><circle cx="356.6" cy="69.3" r="1.48"/><circle cx="361.7" cy="81.5" r="1.48"/><circle cx="354.9" cy="61.9" r="1.48"/><circle cx="362.1" cy="88.0" r="1.48"/><circle cx="355.2" cy="66.0" r="1.48"/><circle cx="353.7" cy="69.5" r="1.48"/><circle cx="358.9" cy="78.5" r="1.48"/><circle cx="360.4" cy="66.7" r="1.48"/><circle cx="352.7" cy="88.3" r="1.48"/><circle cx="360.9" cy="76.2" r="1.48"/><circle cx="363.0" cy="99.2" r="1.48"/><circle cx="355.5" cy="63.8" r="1.48"/><circle cx="363.7" cy="106.5" r="1.48"/><circle cx="358.4" cy="79.2" r="1.48"/><circle cx="355.0" cy="89.5" r="1.48"/><circle cx="357.0" cy="78.0" r="1.48"/><circle cx="362.2" cy="79.1" r="1.48"/><circle cx="362.5" cy="99.6" r="1.48"/><circle cx="359.3" cy="93.1" r="1.48"/><circle cx="356.5" cy="112.4" r="1.48"/><circle cx="361.2" cy="84.3" r="1.48"/><circle cx="357.1" cy="88.5" r="1.48"/><circle cx="358.4" cy="68.1" r="1.48"/><circle cx="353.2" cy="67.4" r="1.48"/><circle cx="359.3" cy="91.3" r="1.48"/><circle cx="354.4" cy="81.3" r="1.48"/><circle cx="358.7" cy="106.2" r="1.48"/><circle cx="363.8" cy="75.3" r="1.48"/><circle cx="353.0" cy="79.0" r="1.48"/><circle cx="358.0" cy="84.4" r="1.48"/><circle cx="354.5" cy="97.2" r="1.48"/><circle cx="364.2" cy="73.1" r="1.48"/><circle cx="360.8" cy="66.5" r="1.48"/><circle cx="362.8" cy="77.2" r="1.48"/><circle cx="358.1" cy="76.5" r="1.48"/><circle cx="363.8" cy="99.3" r="1.48"/><circle cx="352.8" cy="100.3" r="1.48"/><circle cx="355.4" cy="83.6" r="1.48"/><circle cx="358.7" cy="89.5" r="1.48"/><circle cx="354.7" cy="77.2" r="1.48"/><circle cx="355.9" cy="64.3" r="1.48"/><circle cx="356.5" cy="89.8" r="1.48"/><circle cx="360.5" cy="95.1" r="1.48"/><circle cx="363.3" cy="88.5" r="1.48"/><circle cx="363.7" cy="78.9" r="1.48"/><circle cx="354.6" cy="92.0" r="1.48"/><circle cx="354.7" cy="62.5" r="1.48"/><circle cx="356.7" cy="93.6" r="1.48"/><circle cx="354.0" cy="79.2" r="1.48"/><circle cx="354.7" cy="111.7" r="1.48"/><circle cx="362.4" cy="109.9" r="1.48"/><circle cx="356.3" cy="90.0" r="1.48"/><circle cx="356.0" cy="72.9" r="1.48"/><circle cx="363.2" cy="101.5" r="1.48"/><circle cx="364.1" cy="86.0" r="1.48"/><circle cx="357.7" cy="92.6" r="1.48"/><circle cx="362.9" cy="110.5" r="1.48"/><circle cx="358.9" cy="59.2" r="1.48"/><circle cx="353.9" cy="68.4" r="1.48"/><circle cx="358.6" cy="72.6" r="1.48"/><circle cx="355.1" cy="70.7" r="1.48"/><circle cx="359.8" cy="96.3" r="1.48"/><circle cx="360.7" cy="108.9" r="1.48"/><circle cx="361.1" cy="72.3" r="1.48"/><circle cx="359.3" cy="85.8" r="1.48"/><circle cx="355.0" cy="72.5" r="1.48"/><circle cx="353.0" cy="93.2" r="1.48"/><circle cx="363.3" cy="100.2" r="1.48"/><circle cx="355.3" cy="83.7" r="1.48"/><circle cx="357.8" cy="69.5" r="1.48"/><circle cx="354.7" cy="72.4" r="1.48"/><circle cx="362.1" cy="96.9" r="1.48"/><circle cx="357.2" cy="63.7" r="1.48"/><circle cx="361.9" cy="83.6" r="1.48"/><circle cx="353.7" cy="64.3" r="1.48"/><circle cx="353.9" cy="60.7" r="1.48"/><circle cx="363.2" cy="65.4" r="1.48"/><circle cx="362.7" cy="80.1" r="1.48"/><circle cx="356.1" cy="72.4" r="1.48"/><circle cx="359.5" cy="70.6" r="1.48"/><circle cx="355.3" cy="70.4" r="1.48"/><circle cx="359.0" cy="117.0" r="1.48"/><circle cx="353.4" cy="67.4" r="1.48"/><circle cx="362.6" cy="73.9" r="1.48"/><circle cx="358.4" cy="59.0" r="1.48"/><circle cx="360.8" cy="86.2" r="1.48"/><circle cx="360.5" cy="95.3" r="1.48"/><circle cx="359.2" cy="73.7" r="1.48"/><circle cx="355.0" cy="64.8" r="1.48"/><circle cx="363.6" cy="78.2" r="1.48"/><circle cx="361.7" cy="86.0" r="1.48"/><circle cx="355.5" cy="59.1" r="1.48"/><circle cx="361.7" cy="69.7" r="1.48"/><circle cx="360.1" cy="59.6" r="1.48"/><circle cx="356.4" cy="66.1" r="1.48"/><circle cx="357.9" cy="94.7" r="1.48"/><circle cx="358.7" cy="103.2" r="1.48"/><circle cx="361.1" cy="91.4" r="1.48"/><circle cx="362.7" cy="75.9" r="1.48"/><circle cx="354.8" cy="95.0" r="1.48"/><circle cx="355.8" cy="117.8" r="1.48"/><circle cx="356.6" cy="83.9" r="1.48"/><circle cx="363.5" cy="77.6" r="1.48"/><circle cx="357.2" cy="73.3" r="1.48"/><circle cx="355.3" cy="94.1" r="1.48"/><circle cx="361.4" cy="107.9" r="1.48"/><circle cx="362.7" cy="69.1" r="1.48"/><circle cx="363.4" cy="102.4" r="1.48"/><circle cx="359.9" cy="100.7" r="1.48"/><circle cx="354.7" cy="67.3" r="1.48"/><circle cx="360.6" cy="82.3" r="1.48"/><circle cx="356.1" cy="83.9" r="1.48"/><circle cx="358.5" cy="65.8" r="1.48"/><circle cx="363.7" cy="66.9" r="1.48"/><circle cx="353.5" cy="82.6" r="1.48"/><circle cx="358.3" cy="61.0" r="1.48"/><circle cx="356.4" cy="70.2" r="1.48"/><circle cx="355.1" cy="95.7" r="1.48"/><circle cx="357.4" cy="79.6" r="1.48"/><circle cx="358.0" cy="85.5" r="1.48"/><circle cx="363.4" cy="82.4" r="1.48"/><circle cx="360.6" cy="62.1" r="1.48"/><circle cx="352.5" cy="67.7" r="1.48"/><circle cx="356.2" cy="67.7" r="1.48"/><circle cx="361.4" cy="71.9" r="1.48"/><circle cx="363.4" cy="94.0" r="1.48"/><circle cx="356.2" cy="77.8" r="1.48"/><circle cx="361.2" cy="73.3" r="1.48"/><circle cx="361.4" cy="82.0" r="1.48"/><circle cx="358.6" cy="117.0" r="1.48"/><circle cx="358.6" cy="87.6" r="1.48"/><circle cx="358.0" cy="84.2" r="1.48"/><circle cx="363.2" cy="63.2" r="1.48"/><circle cx="357.3" cy="77.8" r="1.48"/><circle cx="363.6" cy="66.8" r="1.48"/><circle cx="354.6" cy="59.1" r="1.48"/><circle cx="356.3" cy="99.6" r="1.48"/><circle cx="359.5" cy="90.0" r="1.48"/><circle cx="359.9" cy="91.3" r="1.48"/><circle cx="361.4" cy="76.1" r="1.48"/><circle cx="356.7" cy="85.6" r="1.48"/><circle cx="352.7" cy="78.6" r="1.48"/><circle cx="363.7" cy="91.7" r="1.48"/><circle cx="363.0" cy="80.8" r="1.48"/><circle cx="356.6" cy="74.5" r="1.48"/><circle cx="356.6" cy="84.8" r="1.48"/><circle cx="355.8" cy="93.9" r="1.48"/><circle cx="361.1" cy="95.7" r="1.48"/><circle cx="353.1" cy="96.5" r="1.48"/><circle cx="354.4" cy="67.7" r="1.48"/><circle cx="363.3" cy="68.8" r="1.48"/><circle cx="356.7" cy="90.1" r="1.48"/><circle cx="357.0" cy="99.4" r="1.48"/><circle cx="359.2" cy="62.3" r="1.48"/><circle cx="363.9" cy="78.0" r="1.48"/><circle cx="360.9" cy="63.8" r="1.48"/><circle cx="358.9" cy="87.1" r="1.48"/><circle cx="359.8" cy="92.4" r="1.48"/><circle cx="359.6" cy="104.4" r="1.48"/><circle cx="354.8" cy="75.5" r="1.48"/><circle cx="363.8" cy="87.3" r="1.48"/><circle cx="362.4" cy="91.0" r="1.48"/><circle cx="354.8" cy="108.7" r="1.48"/><circle cx="356.0" cy="67.3" r="1.48"/><circle cx="357.0" cy="98.0" r="1.48"/><circle cx="361.2" cy="69.8" r="1.48"/><circle cx="364.0" cy="100.2" r="1.48"/><circle cx="354.7" cy="104.0" r="1.48"/><circle cx="352.6" cy="65.8" r="1.48"/><circle cx="361.2" cy="85.5" r="1.48"/><circle cx="361.0" cy="68.2" r="1.48"/><circle cx="359.5" cy="99.0" r="1.48"/><circle cx="360.8" cy="88.5" r="1.48"/><circle cx="354.7" cy="95.7" r="1.48"/><circle cx="356.8" cy="67.3" r="1.48"/><circle cx="361.3" cy="87.4" r="1.48"/><circle cx="361.7" cy="101.9" r="1.48"/><circle cx="361.6" cy="87.8" r="1.48"/><circle cx="358.6" cy="90.0" r="1.48"/><circle cx="360.6" cy="70.7" r="1.48"/><circle cx="358.5" cy="95.1" r="1.48"/><circle cx="355.5" cy="99.4" r="1.48"/><circle cx="360.8" cy="71.0" r="1.48"/><circle cx="363.1" cy="75.5" r="1.48"/><circle cx="355.7" cy="99.0" r="1.48"/><circle cx="359.6" cy="70.5" r="1.48"/><circle cx="353.6" cy="77.0" r="1.48"/><circle cx="358.2" cy="99.4" r="1.48"/><circle cx="354.5" cy="77.9" r="1.48"/><circle cx="354.2" cy="84.9" r="1.48"/><circle cx="362.2" cy="62.0" r="1.48"/><circle cx="361.0" cy="99.9" r="1.48"/><circle cx="355.8" cy="83.1" r="1.48"/><circle cx="363.9" cy="95.5" r="1.48"/><circle cx="361.4" cy="110.4" r="1.48"/><circle cx="356.9" cy="85.7" r="1.48"/><circle cx="352.6" cy="84.3" r="1.48"/><circle cx="354.3" cy="74.2" r="1.48"/><circle cx="353.8" cy="70.6" r="1.48"/><circle cx="355.1" cy="87.5" r="1.48"/><circle cx="363.0" cy="91.7" r="1.48"/><circle cx="355.6" cy="64.3" r="1.48"/><circle cx="355.1" cy="106.7" r="1.48"/><circle cx="360.4" cy="64.4" r="1.48"/><circle cx="363.6" cy="101.6" r="1.48"/><circle cx="357.5" cy="93.6" r="1.48"/><circle cx="358.7" cy="85.9" r="1.48"/><circle cx="361.8" cy="62.9" r="1.48"/><circle cx="363.7" cy="81.9" r="1.48"/><circle cx="355.4" cy="84.1" r="1.48"/><circle cx="359.0" cy="96.7" r="1.48"/><circle cx="361.2" cy="88.5" r="1.48"/><circle cx="360.4" cy="73.2" r="1.48"/><circle cx="353.5" cy="79.3" r="1.48"/><circle cx="356.4" cy="78.2" r="1.48"/><circle cx="361.8" cy="100.0" r="1.48"/><circle cx="357.7" cy="75.5" r="1.48"/><circle cx="355.6" cy="93.1" r="1.48"/><circle cx="359.5" cy="61.6" r="1.48"/><circle cx="363.4" cy="68.7" r="1.48"/><circle cx="353.6" cy="81.4" r="1.48"/><circle cx="361.2" cy="81.2" r="1.48"/><circle cx="354.1" cy="82.8" r="1.48"/><circle cx="355.5" cy="67.2" r="1.48"/><circle cx="360.9" cy="69.3" r="1.48"/><circle cx="362.1" cy="70.8" r="1.48"/><circle cx="361.9" cy="96.8" r="1.48"/><circle cx="362.0" cy="73.2" r="1.48"/><circle cx="354.5" cy="93.6" r="1.48"/><circle cx="353.2" cy="88.3" r="1.48"/><circle cx="363.5" cy="80.1" r="1.48"/><circle cx="363.7" cy="72.6" r="1.48"/><circle cx="361.5" cy="74.3" r="1.48"/><circle cx="364.1" cy="103.5" r="1.48"/><circle cx="361.4" cy="66.2" r="1.48"/><circle cx="364.1" cy="82.5" r="1.48"/><circle cx="356.7" cy="79.3" r="1.48"/><circle cx="364.1" cy="76.3" r="1.48"/><circle cx="362.5" cy="106.0" r="1.48"/><circle cx="354.2" cy="99.2" r="1.48"/><circle cx="356.4" cy="89.1" r="1.48"/><circle cx="357.0" cy="65.1" r="1.48"/><circle cx="360.9" cy="105.9" r="1.48"/><circle cx="360.6" cy="66.1" r="1.48"/><circle cx="354.7" cy="65.9" r="1.48"/><circle cx="363.3" cy="96.1" r="1.48"/><circle cx="357.7" cy="105.6" r="1.48"/><circle cx="353.3" cy="85.1" r="1.48"/><circle cx="355.1" cy="64.3" r="1.48"/><circle cx="363.1" cy="68.7" r="1.48"/><circle cx="360.2" cy="52.9" r="1.48"/><circle cx="360.8" cy="123.6" r="1.48"/><circle cx="355.0" cy="119.3" r="1.48"/><circle cx="357.5" cy="118.5" r="1.48"/>
</g>
<g stroke="#1c1c1c" stroke-width="0.9" fill="none">
<rect x="44.45" y="19.4" width="342.1" height="182.8"/>
<line x1="72.8" y1="202.2" x2="72.8" y2="206.39999999999998"/>
<line x1="129.9" y1="202.2" x2="129.9" y2="206.39999999999998"/>
<line x1="187.0" y1="202.2" x2="187.0" y2="206.39999999999998"/>
<line x1="244.1" y1="202.2" x2="244.1" y2="206.39999999999998"/>
<line x1="301.2" y1="202.2" x2="301.2" y2="206.39999999999998"/>
<line x1="358.3" y1="202.2" x2="358.3" y2="206.39999999999998"/>
<line x1="40.050000000000004" y1="19.40" x2="44.45" y2="19.40"/>
<line x1="40.050000000000004" y1="42.26" x2="44.45" y2="42.26"/>
<line x1="40.050000000000004" y1="65.12" x2="44.45" y2="65.12"/>
<line x1="40.050000000000004" y1="87.99" x2="44.45" y2="87.99"/>
<line x1="40.050000000000004" y1="110.85" x2="44.45" y2="110.85"/>
<line x1="40.050000000000004" y1="133.71" x2="44.45" y2="133.71"/>
<line x1="40.050000000000004" y1="156.57" x2="44.45" y2="156.57"/>
<line x1="40.050000000000004" y1="179.44" x2="44.45" y2="179.44"/>
<line x1="40.050000000000004" y1="202.30" x2="44.45" y2="202.30"/>
</g>
<rect x="447.7" y="56.5" width="44.9" height="145.8" fill="#5875A4"/>
<rect x="504.7" y="60.1" width="44.9" height="142.2" fill="#CC8963"/>
<rect x="561.8" y="36.5" width="44.9" height="165.8" fill="#5F9E6E"/>
<rect x="618.8" y="40.4" width="44.9" height="161.9" fill="#B55D60"/>
<rect x="675.9" y="45.7" width="44.9" height="156.6" fill="#857AAB"/>
<rect x="733.0" y="49.4" width="44.9" height="152.9" fill="#8D7866"/>
<g stroke="#1c1c1c" stroke-width="0.9" fill="none">
<rect x="441.6" y="19.35" width="341.8" height="183.0"/>
<line x1="470.1" y1="202.3" x2="470.1" y2="206.5"/>
<line x1="527.2" y1="202.3" x2="527.2" y2="206.5"/>
<line x1="584.2" y1="202.3" x2="584.2" y2="206.5"/>
<line x1="641.3" y1="202.3" x2="641.3" y2="206.5"/>
<line x1="698.3" y1="202.3" x2="698.3" y2="206.5"/>
<line x1="755.4" y1="202.3" x2="755.4" y2="206.5"/>
<line x1="437.20000000000005" y1="202.30" x2="441.6" y2="202.30"/>
<line x1="437.20000000000005" y1="165.71" x2="441.6" y2="165.71"/>
<line x1="437.20000000000005" y1="129.12" x2="441.6" y2="129.12"/>
<line x1="437.20000000000005" y1="92.53" x2="441.6" y2="92.53"/>
<line x1="437.20000000000005" y1="55.94" x2="441.6" y2="55.94"/>
<line x1="437.20000000000005" y1="19.35" x2="441.6" y2="19.35"/>
</g>
<rect x="771.4" y="24.5" width="7.4" height="7.4" rx="1.2" fill="#fff" stroke="#d0d0d0" stroke-width="0.8"/>
<g font-family="'Liberation Sans', Arial, Helvetica, sans-serif" fill="#111">
<text x="12.9" y="10.7" font-size="14.2" font-weight="bold" stroke="#111" stroke-width="0.2">a</text>
<text x="409.4" y="10.6" font-size="13.8" font-weight="bold" stroke="#111" stroke-width="0.2">b</text>
<g font-size="9.9" stroke="#111" stroke-width="0.3">
<text transform="translate(37.6 22.85) scale(0.96 1)" text-anchor="end">1.00</text>
<text transform="translate(37.6 45.71) scale(0.96 1)" text-anchor="end">0.75</text>
<text transform="translate(37.6 68.58) scale(0.96 1)" text-anchor="end">0.50</text>
<text transform="translate(37.6 91.44) scale(0.96 1)" text-anchor="end">0.25</text>
<text transform="translate(37.6 114.30) scale(0.96 1)" text-anchor="end">0.00</text>
<text transform="translate(37.6 137.16) scale(0.96 1)" text-anchor="end">−0.25</text>
<text transform="translate(37.6 160.02) scale(0.96 1)" text-anchor="end">−0.50</text>
<text transform="translate(37.6 182.89) scale(0.96 1)" text-anchor="end">−0.75</text>
<text transform="translate(37.6 205.75) scale(0.96 1)" text-anchor="end">−1.00</text>
<text transform="translate(72.8 215.7) scale(0.96 1)" text-anchor="middle">Zn vs K</text>
<text transform="translate(129.9 215.7) scale(0.96 1)" text-anchor="middle">Zn vs Ca</text>
<text transform="translate(187.0 215.7) scale(0.96 1)" text-anchor="middle">Zn vs Ni</text>
<text transform="translate(244.1 215.7) scale(0.96 1)" text-anchor="middle">K vs Ca</text>
<text transform="translate(301.2 215.7) scale(0.96 1)" text-anchor="middle">K vs Ni</text>
<text transform="translate(358.3 215.7) scale(0.96 1)" text-anchor="middle">Ca vs Ni</text>
<text transform="translate(435.2 205.85) scale(0.96 1)" text-anchor="end">0</text>
<text transform="translate(435.2 169.26) scale(0.96 1)" text-anchor="end">20</text>
<text transform="translate(435.2 132.67) scale(0.96 1)" text-anchor="end">40</text>
<text transform="translate(435.2 96.08) scale(0.96 1)" text-anchor="end">60</text>
<text transform="translate(435.2 59.49) scale(0.96 1)" text-anchor="end">80</text>
<text transform="translate(435.2 22.90) scale(0.96 1)" text-anchor="end">100</text>
<text text-anchor="middle" transform="translate(469.5 224.6) rotate(-45) scale(0.96 1) translate(0 3.1)">Zn vs K</text>
<text text-anchor="middle" transform="translate(526.6 226.1) rotate(-45) scale(0.96 1) translate(0 3.1)">Zn vs Ca</text>
<text text-anchor="middle" transform="translate(583.6 225.6) rotate(-45) scale(0.96 1) translate(0 3.1)">Zn vs Ni</text>
<text text-anchor="middle" transform="translate(640.7 225.0) rotate(-45) scale(0.96 1) translate(0 3.1)">K vs Ca</text>
<text text-anchor="middle" transform="translate(697.7 224.4) rotate(-45) scale(0.96 1) translate(0 3.1)">K vs Ni</text>
<text text-anchor="middle" transform="translate(754.8 226.0) rotate(-45) scale(0.96 1) translate(0 3.1)">Ca vs Ni</text>
</g>
<text font-size="14.8" font-style="italic" stroke="#111" stroke-width="0.3" text-anchor="middle" transform="translate(7.7 111.3) rotate(-90)">r</text>
<text font-size="12.5" font-style="italic" stroke="#111" stroke-width="0.25" transform="translate(412.8 129.6) rotate(-90) scale(0.96 1)">H</text>
<text font-size="8.7" stroke="#111" stroke-width="0.2" transform="translate(408.0 120.7) rotate(-90) scale(0.96 1)">2</text>
<text font-size="12.3" stroke="#111" stroke-width="0.25" transform="translate(412.8 111.7) rotate(-90) scale(0.97 1)">(%)</text>
</g>
</svg>
</body></html>
